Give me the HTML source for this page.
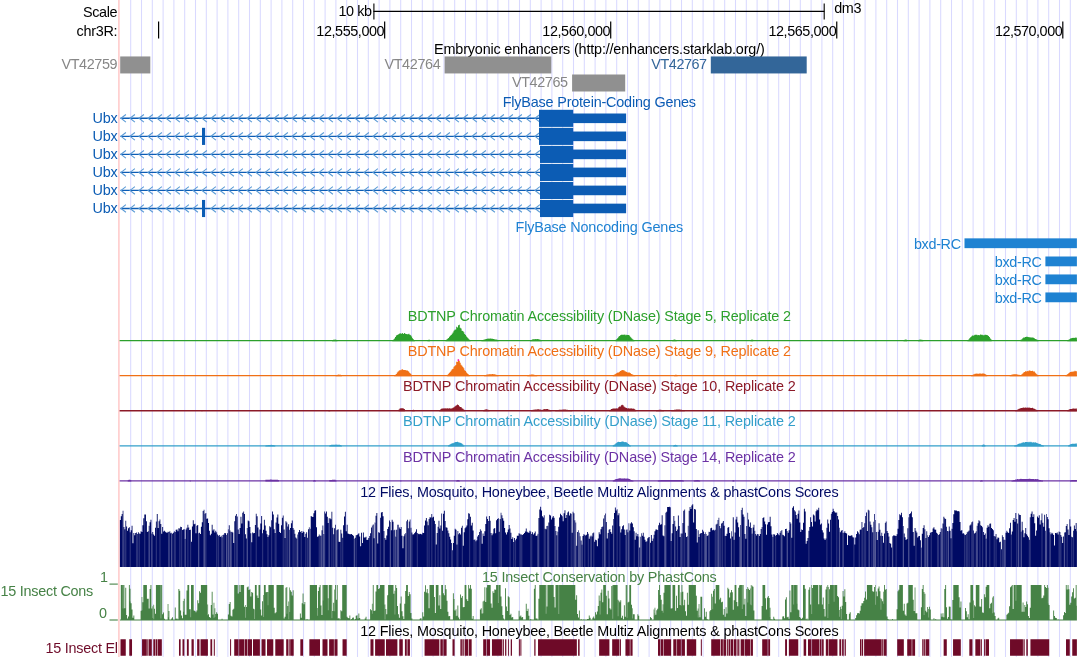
<!DOCTYPE html>
<html><head><meta charset="utf-8"><title>UCSC Genome Browser dm3 chr3R</title>
<style>html,body{margin:0;padding:0;background:#fff;overflow:hidden}svg{display:block;will-change:transform}text{font-family:"Liberation Sans", sans-serif;white-space:pre}</style></head><body>
<svg width="1078" height="657" viewBox="0 0 1078 657">
<rect width="1078" height="657" fill="#fff"/>
<g stroke="#d9d9ff" stroke-width="1.05">
<line x1="130.7" y1="0" x2="130.7" y2="657"/>
<line x1="141.5" y1="0" x2="141.5" y2="657"/>
<line x1="152.3" y1="0" x2="152.3" y2="657"/>
<line x1="163.1" y1="0" x2="163.1" y2="657"/>
<line x1="173.9" y1="0" x2="173.9" y2="657"/>
<line x1="184.7" y1="0" x2="184.7" y2="657"/>
<line x1="195.5" y1="0" x2="195.5" y2="657"/>
<line x1="206.3" y1="0" x2="206.3" y2="657"/>
<line x1="217.1" y1="0" x2="217.1" y2="657"/>
<line x1="227.9" y1="0" x2="227.9" y2="657"/>
<line x1="238.7" y1="0" x2="238.7" y2="657"/>
<line x1="249.5" y1="0" x2="249.5" y2="657"/>
<line x1="260.3" y1="0" x2="260.3" y2="657"/>
<line x1="271.1" y1="0" x2="271.1" y2="657"/>
<line x1="281.9" y1="0" x2="281.9" y2="657"/>
<line x1="292.7" y1="0" x2="292.7" y2="657"/>
<line x1="303.5" y1="0" x2="303.5" y2="657"/>
<line x1="314.3" y1="0" x2="314.3" y2="657"/>
<line x1="325.1" y1="0" x2="325.1" y2="657"/>
<line x1="335.9" y1="0" x2="335.9" y2="657"/>
<line x1="346.7" y1="0" x2="346.7" y2="657"/>
<line x1="357.5" y1="0" x2="357.5" y2="657"/>
<line x1="368.3" y1="0" x2="368.3" y2="657"/>
<line x1="379.1" y1="0" x2="379.1" y2="657"/>
<line x1="389.9" y1="0" x2="389.9" y2="657"/>
<line x1="400.7" y1="0" x2="400.7" y2="657"/>
<line x1="411.5" y1="0" x2="411.5" y2="657"/>
<line x1="422.3" y1="0" x2="422.3" y2="657"/>
<line x1="433.1" y1="0" x2="433.1" y2="657"/>
<line x1="443.9" y1="0" x2="443.9" y2="657"/>
<line x1="454.7" y1="0" x2="454.7" y2="657"/>
<line x1="465.5" y1="0" x2="465.5" y2="657"/>
<line x1="476.3" y1="0" x2="476.3" y2="657"/>
<line x1="487.1" y1="0" x2="487.1" y2="657"/>
<line x1="497.9" y1="0" x2="497.9" y2="657"/>
<line x1="508.7" y1="0" x2="508.7" y2="657"/>
<line x1="519.5" y1="0" x2="519.5" y2="657"/>
<line x1="530.3" y1="0" x2="530.3" y2="657"/>
<line x1="541.1" y1="0" x2="541.1" y2="657"/>
<line x1="551.9" y1="0" x2="551.9" y2="657"/>
<line x1="562.7" y1="0" x2="562.7" y2="657"/>
<line x1="573.5" y1="0" x2="573.5" y2="657"/>
<line x1="584.3" y1="0" x2="584.3" y2="657"/>
<line x1="595.1" y1="0" x2="595.1" y2="657"/>
<line x1="605.9" y1="0" x2="605.9" y2="657"/>
<line x1="616.7" y1="0" x2="616.7" y2="657"/>
<line x1="627.5" y1="0" x2="627.5" y2="657"/>
<line x1="638.3" y1="0" x2="638.3" y2="657"/>
<line x1="649.1" y1="0" x2="649.1" y2="657"/>
<line x1="659.9" y1="0" x2="659.9" y2="657"/>
<line x1="670.7" y1="0" x2="670.7" y2="657"/>
<line x1="681.5" y1="0" x2="681.5" y2="657"/>
<line x1="692.3" y1="0" x2="692.3" y2="657"/>
<line x1="703.1" y1="0" x2="703.1" y2="657"/>
<line x1="713.9" y1="0" x2="713.9" y2="657"/>
<line x1="724.7" y1="0" x2="724.7" y2="657"/>
<line x1="735.5" y1="0" x2="735.5" y2="657"/>
<line x1="746.3" y1="0" x2="746.3" y2="657"/>
<line x1="757.1" y1="0" x2="757.1" y2="657"/>
<line x1="767.9" y1="0" x2="767.9" y2="657"/>
<line x1="778.7" y1="0" x2="778.7" y2="657"/>
<line x1="789.5" y1="0" x2="789.5" y2="657"/>
<line x1="800.3" y1="0" x2="800.3" y2="657"/>
<line x1="811.1" y1="0" x2="811.1" y2="657"/>
<line x1="821.9" y1="0" x2="821.9" y2="657"/>
<line x1="832.7" y1="0" x2="832.7" y2="657"/>
<line x1="843.5" y1="0" x2="843.5" y2="657"/>
<line x1="854.3" y1="0" x2="854.3" y2="657"/>
<line x1="865.1" y1="0" x2="865.1" y2="657"/>
<line x1="875.9" y1="0" x2="875.9" y2="657"/>
<line x1="886.7" y1="0" x2="886.7" y2="657"/>
<line x1="897.5" y1="0" x2="897.5" y2="657"/>
<line x1="908.3" y1="0" x2="908.3" y2="657"/>
<line x1="919.1" y1="0" x2="919.1" y2="657"/>
<line x1="929.9" y1="0" x2="929.9" y2="657"/>
<line x1="940.7" y1="0" x2="940.7" y2="657"/>
<line x1="951.5" y1="0" x2="951.5" y2="657"/>
<line x1="962.3" y1="0" x2="962.3" y2="657"/>
<line x1="973.1" y1="0" x2="973.1" y2="657"/>
<line x1="983.9" y1="0" x2="983.9" y2="657"/>
<line x1="994.7" y1="0" x2="994.7" y2="657"/>
<line x1="1005.5" y1="0" x2="1005.5" y2="657"/>
<line x1="1016.3" y1="0" x2="1016.3" y2="657"/>
<line x1="1027.1" y1="0" x2="1027.1" y2="657"/>
<line x1="1037.9" y1="0" x2="1037.9" y2="657"/>
<line x1="1048.7" y1="0" x2="1048.7" y2="657"/>
<line x1="1059.5" y1="0" x2="1059.5" y2="657"/>
<line x1="1070.3" y1="0" x2="1070.3" y2="657"/>
</g>
<line x1="118.9" y1="0" x2="118.9" y2="657" stroke="#ffc8c8" stroke-width="1.5"/>
<text x="117.6" y="16.5" fill="#000" text-anchor="end" font-size="14.4" textLength="34.6">Scale</text>
<text x="372" y="16.2" fill="#000" text-anchor="end" font-size="14.4" textLength="33.5">10 kb</text>
<g stroke="#000" stroke-width="1.1">
<line x1="373.4" y1="11.4" x2="824.4" y2="11.4"/>
<line x1="373.9" y1="3.6" x2="373.9" y2="19.6"/>
<line x1="824.2" y1="3.6" x2="824.2" y2="19.6"/>
</g>
<text x="834.2" y="13.2" fill="#000" text-anchor="start" font-size="14.4" textLength="27.3">dm3</text>
<text x="117.6" y="36.3" fill="#000" text-anchor="end" font-size="14.4" textLength="41.1">chr3R:</text>
<g stroke="#000" stroke-width="1.2">
<line x1="158.6" y1="21.6" x2="158.6" y2="38.6"/>
<line x1="384.65" y1="21.6" x2="384.65" y2="38.6"/>
<line x1="610.7" y1="21.6" x2="610.7" y2="38.6"/>
<line x1="836.75" y1="21.6" x2="836.75" y2="38.6"/>
<line x1="1062.8" y1="21.6" x2="1062.8" y2="38.6"/>
</g>
<text x="384.55" y="36.3" fill="#000" text-anchor="end" font-size="14.4" textLength="68.2">12,555,000</text>
<text x="610.6" y="36.3" fill="#000" text-anchor="end" font-size="14.4" textLength="68.3">12,560,000</text>
<text x="836.65" y="36.3" fill="#000" text-anchor="end" font-size="14.4" textLength="68.2">12,565,000</text>
<text x="1062.7" y="36.3" fill="#000" text-anchor="end" font-size="14.4" textLength="67.8">12,570,000</text>
<text x="599.4" y="53.9" fill="#000" text-anchor="middle" font-size="14.4" textLength="330.7">Embryonic enhancers (http://enhancers.starklab.org/)</text>
<rect x="120.2" y="56.45" width="30.1" height="17" fill="#909090"/>
<text x="117.6" y="69.15" fill="#878787" text-anchor="end" font-size="14.4" textLength="56.2">VT42759</text>
<rect x="444.6" y="56.45" width="106.7" height="17" fill="#909090"/>
<text x="440.8" y="69.15" fill="#878787" text-anchor="end" font-size="14.4" textLength="56.4">VT42764</text>
<rect x="572.1" y="74.5" width="53.1" height="17" fill="#909090"/>
<text x="568.1" y="87.2" fill="#878787" text-anchor="end" font-size="14.4" textLength="56.2">VT42765</text>
<rect x="710.8" y="56.45" width="95.9" height="17" fill="#336699"/>
<text x="707.1" y="69.15" fill="#336699" text-anchor="end" font-size="14.4" textLength="55.8">VT42767</text>
<text x="599.4" y="106.5" fill="#0c5cb4" text-anchor="middle" font-size="14.4" textLength="193.3">FlyBase Protein-Coding Genes</text>
<text x="117.7" y="123.1" fill="#0c5cb4" text-anchor="end" font-size="14.4" textLength="25.3">Ubx</text>
<line x1="120.4" y1="118.3" x2="539" y2="118.3" stroke="#0c5cb4" stroke-width="1.38"/>
<path d="M125.9 114.5L121 118.3L125.9 122.1M134.9 114.5L130 118.3L134.9 122.1M143.9 114.5L139 118.3L143.9 122.1M152.9 114.5L148 118.3L152.9 122.1M161.9 114.5L157 118.3L161.9 122.1M170.9 114.5L166 118.3L170.9 122.1M179.9 114.5L175 118.3L179.9 122.1M188.9 114.5L184 118.3L188.9 122.1M197.9 114.5L193 118.3L197.9 122.1M206.9 114.5L202 118.3L206.9 122.1M215.9 114.5L211 118.3L215.9 122.1M224.9 114.5L220 118.3L224.9 122.1M233.9 114.5L229 118.3L233.9 122.1M242.9 114.5L238 118.3L242.9 122.1M251.9 114.5L247 118.3L251.9 122.1M260.9 114.5L256 118.3L260.9 122.1M269.9 114.5L265 118.3L269.9 122.1M278.9 114.5L274 118.3L278.9 122.1M287.9 114.5L283 118.3L287.9 122.1M296.9 114.5L292 118.3L296.9 122.1M305.9 114.5L301 118.3L305.9 122.1M314.9 114.5L310 118.3L314.9 122.1M323.9 114.5L319 118.3L323.9 122.1M332.9 114.5L328 118.3L332.9 122.1M341.9 114.5L337 118.3L341.9 122.1M350.9 114.5L346 118.3L350.9 122.1M359.9 114.5L355 118.3L359.9 122.1M368.9 114.5L364 118.3L368.9 122.1M377.9 114.5L373 118.3L377.9 122.1M386.9 114.5L382 118.3L386.9 122.1M395.9 114.5L391 118.3L395.9 122.1M404.9 114.5L400 118.3L404.9 122.1M413.9 114.5L409 118.3L413.9 122.1M422.9 114.5L418 118.3L422.9 122.1M431.9 114.5L427 118.3L431.9 122.1M440.9 114.5L436 118.3L440.9 122.1M449.9 114.5L445 118.3L449.9 122.1M458.9 114.5L454 118.3L458.9 122.1M467.9 114.5L463 118.3L467.9 122.1M476.9 114.5L472 118.3L476.9 122.1M485.9 114.5L481 118.3L485.9 122.1M494.9 114.5L490 118.3L494.9 122.1M503.9 114.5L499 118.3L503.9 122.1M512.9 114.5L508 118.3L512.9 122.1M521.9 114.5L517 118.3L521.9 122.1M530.9 114.5L526 118.3L530.9 122.1M539.9 114.5L535 118.3L539.9 122.1" fill="none" stroke="#5b9bd6" stroke-width="1.12"/>
<rect x="539" y="109.8" width="34.2" height="17.1" fill="#0c5cb4"/>
<rect x="573" y="113.5" width="53.1" height="9.6" fill="#0c5cb4"/>
<text x="117.7" y="141.13" fill="#0c5cb4" text-anchor="end" font-size="14.4" textLength="25.3">Ubx</text>
<line x1="120.4" y1="136.33" x2="539" y2="136.33" stroke="#0c5cb4" stroke-width="1.38"/>
<path d="M125.9 132.53L121 136.33L125.9 140.13M134.9 132.53L130 136.33L134.9 140.13M143.9 132.53L139 136.33L143.9 140.13M152.9 132.53L148 136.33L152.9 140.13M161.9 132.53L157 136.33L161.9 140.13M170.9 132.53L166 136.33L170.9 140.13M179.9 132.53L175 136.33L179.9 140.13M188.9 132.53L184 136.33L188.9 140.13M197.9 132.53L193 136.33L197.9 140.13M215.9 132.53L211 136.33L215.9 140.13M224.9 132.53L220 136.33L224.9 140.13M233.9 132.53L229 136.33L233.9 140.13M242.9 132.53L238 136.33L242.9 140.13M251.9 132.53L247 136.33L251.9 140.13M260.9 132.53L256 136.33L260.9 140.13M269.9 132.53L265 136.33L269.9 140.13M278.9 132.53L274 136.33L278.9 140.13M287.9 132.53L283 136.33L287.9 140.13M296.9 132.53L292 136.33L296.9 140.13M305.9 132.53L301 136.33L305.9 140.13M314.9 132.53L310 136.33L314.9 140.13M323.9 132.53L319 136.33L323.9 140.13M332.9 132.53L328 136.33L332.9 140.13M341.9 132.53L337 136.33L341.9 140.13M350.9 132.53L346 136.33L350.9 140.13M359.9 132.53L355 136.33L359.9 140.13M368.9 132.53L364 136.33L368.9 140.13M377.9 132.53L373 136.33L377.9 140.13M386.9 132.53L382 136.33L386.9 140.13M395.9 132.53L391 136.33L395.9 140.13M404.9 132.53L400 136.33L404.9 140.13M413.9 132.53L409 136.33L413.9 140.13M422.9 132.53L418 136.33L422.9 140.13M431.9 132.53L427 136.33L431.9 140.13M440.9 132.53L436 136.33L440.9 140.13M449.9 132.53L445 136.33L449.9 140.13M458.9 132.53L454 136.33L458.9 140.13M467.9 132.53L463 136.33L467.9 140.13M476.9 132.53L472 136.33L476.9 140.13M485.9 132.53L481 136.33L485.9 140.13M494.9 132.53L490 136.33L494.9 140.13M503.9 132.53L499 136.33L503.9 140.13M512.9 132.53L508 136.33L512.9 140.13M521.9 132.53L517 136.33L521.9 140.13M530.9 132.53L526 136.33L530.9 140.13M539.9 132.53L535 136.33L539.9 140.13" fill="none" stroke="#5b9bd6" stroke-width="1.12"/>
<rect x="539" y="127.83" width="34.2" height="17.1" fill="#0c5cb4"/>
<rect x="573" y="131.53" width="53.1" height="9.6" fill="#0c5cb4"/>
<rect x="202" y="127.83" width="3.1" height="17.1" fill="#0c5cb4"/>
<text x="117.7" y="159.16" fill="#0c5cb4" text-anchor="end" font-size="14.4" textLength="25.3">Ubx</text>
<line x1="120.4" y1="154.36" x2="540" y2="154.36" stroke="#0c5cb4" stroke-width="1.38"/>
<path d="M125.9 150.56L121 154.36L125.9 158.16M134.9 150.56L130 154.36L134.9 158.16M143.9 150.56L139 154.36L143.9 158.16M152.9 150.56L148 154.36L152.9 158.16M161.9 150.56L157 154.36L161.9 158.16M170.9 150.56L166 154.36L170.9 158.16M179.9 150.56L175 154.36L179.9 158.16M188.9 150.56L184 154.36L188.9 158.16M197.9 150.56L193 154.36L197.9 158.16M206.9 150.56L202 154.36L206.9 158.16M215.9 150.56L211 154.36L215.9 158.16M224.9 150.56L220 154.36L224.9 158.16M233.9 150.56L229 154.36L233.9 158.16M242.9 150.56L238 154.36L242.9 158.16M251.9 150.56L247 154.36L251.9 158.16M260.9 150.56L256 154.36L260.9 158.16M269.9 150.56L265 154.36L269.9 158.16M278.9 150.56L274 154.36L278.9 158.16M287.9 150.56L283 154.36L287.9 158.16M296.9 150.56L292 154.36L296.9 158.16M305.9 150.56L301 154.36L305.9 158.16M314.9 150.56L310 154.36L314.9 158.16M323.9 150.56L319 154.36L323.9 158.16M332.9 150.56L328 154.36L332.9 158.16M341.9 150.56L337 154.36L341.9 158.16M350.9 150.56L346 154.36L350.9 158.16M359.9 150.56L355 154.36L359.9 158.16M368.9 150.56L364 154.36L368.9 158.16M377.9 150.56L373 154.36L377.9 158.16M386.9 150.56L382 154.36L386.9 158.16M395.9 150.56L391 154.36L395.9 158.16M404.9 150.56L400 154.36L404.9 158.16M413.9 150.56L409 154.36L413.9 158.16M422.9 150.56L418 154.36L422.9 158.16M431.9 150.56L427 154.36L431.9 158.16M440.9 150.56L436 154.36L440.9 158.16M449.9 150.56L445 154.36L449.9 158.16M458.9 150.56L454 154.36L458.9 158.16M467.9 150.56L463 154.36L467.9 158.16M476.9 150.56L472 154.36L476.9 158.16M485.9 150.56L481 154.36L485.9 158.16M494.9 150.56L490 154.36L494.9 158.16M503.9 150.56L499 154.36L503.9 158.16M512.9 150.56L508 154.36L512.9 158.16M521.9 150.56L517 154.36L521.9 158.16M530.9 150.56L526 154.36L530.9 158.16M539.9 150.56L535 154.36L539.9 158.16" fill="none" stroke="#5b9bd6" stroke-width="1.12"/>
<rect x="540" y="145.86" width="33.2" height="17.1" fill="#0c5cb4"/>
<rect x="573" y="149.56" width="53.1" height="9.6" fill="#0c5cb4"/>
<text x="117.7" y="177.19" fill="#0c5cb4" text-anchor="end" font-size="14.4" textLength="25.3">Ubx</text>
<line x1="120.4" y1="172.39" x2="540" y2="172.39" stroke="#0c5cb4" stroke-width="1.38"/>
<path d="M125.9 168.59L121 172.39L125.9 176.19M134.9 168.59L130 172.39L134.9 176.19M143.9 168.59L139 172.39L143.9 176.19M152.9 168.59L148 172.39L152.9 176.19M161.9 168.59L157 172.39L161.9 176.19M170.9 168.59L166 172.39L170.9 176.19M179.9 168.59L175 172.39L179.9 176.19M188.9 168.59L184 172.39L188.9 176.19M197.9 168.59L193 172.39L197.9 176.19M206.9 168.59L202 172.39L206.9 176.19M215.9 168.59L211 172.39L215.9 176.19M224.9 168.59L220 172.39L224.9 176.19M233.9 168.59L229 172.39L233.9 176.19M242.9 168.59L238 172.39L242.9 176.19M251.9 168.59L247 172.39L251.9 176.19M260.9 168.59L256 172.39L260.9 176.19M269.9 168.59L265 172.39L269.9 176.19M278.9 168.59L274 172.39L278.9 176.19M287.9 168.59L283 172.39L287.9 176.19M296.9 168.59L292 172.39L296.9 176.19M305.9 168.59L301 172.39L305.9 176.19M314.9 168.59L310 172.39L314.9 176.19M323.9 168.59L319 172.39L323.9 176.19M332.9 168.59L328 172.39L332.9 176.19M341.9 168.59L337 172.39L341.9 176.19M350.9 168.59L346 172.39L350.9 176.19M359.9 168.59L355 172.39L359.9 176.19M368.9 168.59L364 172.39L368.9 176.19M377.9 168.59L373 172.39L377.9 176.19M386.9 168.59L382 172.39L386.9 176.19M395.9 168.59L391 172.39L395.9 176.19M404.9 168.59L400 172.39L404.9 176.19M413.9 168.59L409 172.39L413.9 176.19M422.9 168.59L418 172.39L422.9 176.19M431.9 168.59L427 172.39L431.9 176.19M440.9 168.59L436 172.39L440.9 176.19M449.9 168.59L445 172.39L449.9 176.19M458.9 168.59L454 172.39L458.9 176.19M467.9 168.59L463 172.39L467.9 176.19M476.9 168.59L472 172.39L476.9 176.19M485.9 168.59L481 172.39L485.9 176.19M494.9 168.59L490 172.39L494.9 176.19M503.9 168.59L499 172.39L503.9 176.19M512.9 168.59L508 172.39L512.9 176.19M521.9 168.59L517 172.39L521.9 176.19M530.9 168.59L526 172.39L530.9 176.19M539.9 168.59L535 172.39L539.9 176.19" fill="none" stroke="#5b9bd6" stroke-width="1.12"/>
<rect x="540" y="163.89" width="33.2" height="17.1" fill="#0c5cb4"/>
<rect x="573" y="167.59" width="53.1" height="9.6" fill="#0c5cb4"/>
<text x="117.7" y="195.22" fill="#0c5cb4" text-anchor="end" font-size="14.4" textLength="25.3">Ubx</text>
<line x1="120.4" y1="190.42" x2="540" y2="190.42" stroke="#0c5cb4" stroke-width="1.38"/>
<path d="M125.9 186.62L121 190.42L125.9 194.22M134.9 186.62L130 190.42L134.9 194.22M143.9 186.62L139 190.42L143.9 194.22M152.9 186.62L148 190.42L152.9 194.22M161.9 186.62L157 190.42L161.9 194.22M170.9 186.62L166 190.42L170.9 194.22M179.9 186.62L175 190.42L179.9 194.22M188.9 186.62L184 190.42L188.9 194.22M197.9 186.62L193 190.42L197.9 194.22M206.9 186.62L202 190.42L206.9 194.22M215.9 186.62L211 190.42L215.9 194.22M224.9 186.62L220 190.42L224.9 194.22M233.9 186.62L229 190.42L233.9 194.22M242.9 186.62L238 190.42L242.9 194.22M251.9 186.62L247 190.42L251.9 194.22M260.9 186.62L256 190.42L260.9 194.22M269.9 186.62L265 190.42L269.9 194.22M278.9 186.62L274 190.42L278.9 194.22M287.9 186.62L283 190.42L287.9 194.22M296.9 186.62L292 190.42L296.9 194.22M305.9 186.62L301 190.42L305.9 194.22M314.9 186.62L310 190.42L314.9 194.22M323.9 186.62L319 190.42L323.9 194.22M332.9 186.62L328 190.42L332.9 194.22M341.9 186.62L337 190.42L341.9 194.22M350.9 186.62L346 190.42L350.9 194.22M359.9 186.62L355 190.42L359.9 194.22M368.9 186.62L364 190.42L368.9 194.22M377.9 186.62L373 190.42L377.9 194.22M386.9 186.62L382 190.42L386.9 194.22M395.9 186.62L391 190.42L395.9 194.22M404.9 186.62L400 190.42L404.9 194.22M413.9 186.62L409 190.42L413.9 194.22M422.9 186.62L418 190.42L422.9 194.22M431.9 186.62L427 190.42L431.9 194.22M440.9 186.62L436 190.42L440.9 194.22M449.9 186.62L445 190.42L449.9 194.22M458.9 186.62L454 190.42L458.9 194.22M467.9 186.62L463 190.42L467.9 194.22M476.9 186.62L472 190.42L476.9 194.22M485.9 186.62L481 190.42L485.9 194.22M494.9 186.62L490 190.42L494.9 194.22M503.9 186.62L499 190.42L503.9 194.22M512.9 186.62L508 190.42L512.9 194.22M521.9 186.62L517 190.42L521.9 194.22M530.9 186.62L526 190.42L530.9 194.22M539.9 186.62L535 190.42L539.9 194.22" fill="none" stroke="#5b9bd6" stroke-width="1.12"/>
<rect x="540" y="181.92" width="33.2" height="17.1" fill="#0c5cb4"/>
<rect x="573" y="185.62" width="53.1" height="9.6" fill="#0c5cb4"/>
<text x="117.7" y="213.25" fill="#0c5cb4" text-anchor="end" font-size="14.4" textLength="25.3">Ubx</text>
<line x1="120.4" y1="208.45" x2="540" y2="208.45" stroke="#0c5cb4" stroke-width="1.38"/>
<path d="M125.9 204.65L121 208.45L125.9 212.25M134.9 204.65L130 208.45L134.9 212.25M143.9 204.65L139 208.45L143.9 212.25M152.9 204.65L148 208.45L152.9 212.25M161.9 204.65L157 208.45L161.9 212.25M170.9 204.65L166 208.45L170.9 212.25M179.9 204.65L175 208.45L179.9 212.25M188.9 204.65L184 208.45L188.9 212.25M197.9 204.65L193 208.45L197.9 212.25M215.9 204.65L211 208.45L215.9 212.25M224.9 204.65L220 208.45L224.9 212.25M233.9 204.65L229 208.45L233.9 212.25M242.9 204.65L238 208.45L242.9 212.25M251.9 204.65L247 208.45L251.9 212.25M260.9 204.65L256 208.45L260.9 212.25M269.9 204.65L265 208.45L269.9 212.25M278.9 204.65L274 208.45L278.9 212.25M287.9 204.65L283 208.45L287.9 212.25M296.9 204.65L292 208.45L296.9 212.25M305.9 204.65L301 208.45L305.9 212.25M314.9 204.65L310 208.45L314.9 212.25M323.9 204.65L319 208.45L323.9 212.25M332.9 204.65L328 208.45L332.9 212.25M341.9 204.65L337 208.45L341.9 212.25M350.9 204.65L346 208.45L350.9 212.25M359.9 204.65L355 208.45L359.9 212.25M368.9 204.65L364 208.45L368.9 212.25M377.9 204.65L373 208.45L377.9 212.25M386.9 204.65L382 208.45L386.9 212.25M395.9 204.65L391 208.45L395.9 212.25M404.9 204.65L400 208.45L404.9 212.25M413.9 204.65L409 208.45L413.9 212.25M422.9 204.65L418 208.45L422.9 212.25M431.9 204.65L427 208.45L431.9 212.25M440.9 204.65L436 208.45L440.9 212.25M449.9 204.65L445 208.45L449.9 212.25M458.9 204.65L454 208.45L458.9 212.25M467.9 204.65L463 208.45L467.9 212.25M476.9 204.65L472 208.45L476.9 212.25M485.9 204.65L481 208.45L485.9 212.25M494.9 204.65L490 208.45L494.9 212.25M503.9 204.65L499 208.45L503.9 212.25M512.9 204.65L508 208.45L512.9 212.25M521.9 204.65L517 208.45L521.9 212.25M530.9 204.65L526 208.45L530.9 212.25M539.9 204.65L535 208.45L539.9 212.25" fill="none" stroke="#5b9bd6" stroke-width="1.12"/>
<rect x="540" y="199.95" width="33.2" height="17.1" fill="#0c5cb4"/>
<rect x="573" y="203.65" width="53.1" height="9.6" fill="#0c5cb4"/>
<rect x="202" y="199.95" width="3.1" height="17.1" fill="#0c5cb4"/>
<text x="599.4" y="232" fill="#1e82d2" text-anchor="middle" font-size="14.4" textLength="167.6">FlyBase Noncoding Genes</text>
<rect x="964.5" y="238.35" width="112.4" height="9.8" fill="#1e82d2"/>
<text x="961.1" y="248.85" fill="#1e82d2" text-anchor="end" font-size="14.4" textLength="47.2">bxd-RC</text>
<rect x="1045.4" y="256.5" width="31.5" height="9.8" fill="#1e82d2"/>
<text x="1042" y="267" fill="#1e82d2" text-anchor="end" font-size="14.4" textLength="47.2">bxd-RC</text>
<rect x="1045.4" y="274.45" width="31.5" height="9.8" fill="#1e82d2"/>
<text x="1042" y="284.95" fill="#1e82d2" text-anchor="end" font-size="14.4" textLength="47.2">bxd-RC</text>
<rect x="1045.4" y="292.45" width="31.5" height="9.8" fill="#1e82d2"/>
<text x="1042" y="302.95" fill="#1e82d2" text-anchor="end" font-size="14.4" textLength="47.2">bxd-RC</text>
<text x="599.4" y="321.15" fill="#2ca02c" text-anchor="middle" font-size="14.4" textLength="383.3">BDTNP Chromatin Accessibility (DNase) Stage 5, Replicate 2</text>
<line x1="119.6" y1="340.55" x2="1076.9" y2="340.55" stroke="#2ca02c" stroke-width="1.3"/>
<path d="M332 341.15V340.04H332.9V339.7H333.8V339.64H334.7V339.61H335.6V339.85H336.5V340.2H337.4V341.15ZM392.3 341.15V340.24H393.2V339.51H394.1V338.41H395V336.96H395.9V335.38H396.8V335.08H397.7V334.51H398.6V333.91H399.5V333.35H400.4V333.62H401.3V333.71H402.2V332.92H403.1V334.01H404V333.04H404.9V333.79H405.8V334.07H406.7V334.24H407.6V334.19H408.5V333.81H409.4V334.79H410.3V335.27H411.2V336.54H412.1V338.13H413V339.37H413.9V340.28H414.8V341.15ZM427.4 341.15V340.14H428.3V339.82H429.2V339.86H430.1V341.15ZM445.4 341.15V340.14H446.3V339.44H447.2V338.7H448.1V337.91H449V336.7H449.9V335.73H450.8V335.1H451.7V333.68H452.6V332.6H453.5V330.87H454.4V329.85H455.3V329.44H456.2V326.69H457.1V327.38H458V325.34H458.9V324.87H459.8V327.86H460.7V328.55H461.6V330.81H462.5V331.09H463.4V332.35H464.3V333.92H465.2V334.89H466.1V336.54H467V337.41H467.9V338.49H468.8V339.42H469.7V340.19H470.6V341.15ZM481.4 341.15V340.21H482.3V339.98H483.2V339.7H484.1V339.55H485V339.19H485.9V338.98H486.8V338.7H487.7V338.61H488.6V338.7H489.5V338.62H490.4V338.53H491.3V338.81H492.2V338.77H493.1V339H494V339.19H494.9V339.4H495.8V339.5H496.7V339.86H497.6V340.09H498.5V341.15ZM530 341.15V340.18H530.9V339.9H531.8V339.58H532.7V339.35H533.6V339.16H534.5V339.18H535.4V339.1H536.3V339.13H537.2V339.1H538.1V339.26H539V339.62H539.9V339.85H540.8V340.1H541.7V341.15ZM615.5 341.15V339.86H616.4V339.03H617.3V338.1H618.2V336.84H619.1V336.02H620V335.35H620.9V334.81H621.8V334.83H622.7V334.83H623.6V334.63H624.5V334.57H625.4V335.28H626.3V334.63H627.2V334.97H628.1V335.07H629V335.61H629.9V336.72H630.8V337.69H631.7V338.81H632.6V339.59H633.5V340.29H634.4V341.15ZM672.2 341.15V340.21H673.1V339.74H674V339.5H674.9V339.71H675.8V340.17H676.7V341.15ZM750.5 341.15V339.97H751.4V339.6H752.3V339.83H753.2V341.15ZM903.5 341.15V340.09H904.4V339.7H905.3V339.61H906.2V339.87H907.1V341.15ZM917.9 341.15V340.01H918.8V339.75H919.7V339.58H920.6V339.67H921.5V339.85H922.4V340.14H923.3V341.15ZM967.4 341.15V340.22H968.3V339.49H969.2V338.13H970.1V337.13H971V336.43H971.9V335.51H972.8V335.8H973.7V335.24H974.6V334.71H975.5V334.71H976.4V334.79H977.3V335.14H978.2V334.99H979.1V335.17H980V334.57H980.9V334.83H981.8V334.64H982.7V335.14H983.6V335.32H984.5V334.86H985.4V334.82H986.3V335.06H987.2V335.29H988.1V335.97H989V337.11H989.9V338.55H990.8V339.54H991.7V341.15ZM1020.5 341.15V339.82H1021.4V339.14H1022.3V338.27H1023.2V337.52H1024.1V337.43H1025V337.03H1025.9V336.84H1026.8V336.75H1027.7V337.09H1028.6V337.22H1029.5V337.33H1030.4V337.5H1031.3V337.57H1032.2V337.55H1033.1V337.77H1034V338.26H1034.9V338.88H1035.8V339.34H1036.7V339.79H1037.6V340.22H1038.5V341.15ZM1067.3 341.15V340.23H1068.2V339.73H1069.1V339.18H1070V338.42H1070.9V338.22H1071.8V337.91H1072.7V337.74H1073.6V337.92H1074.5V337.86H1075.4V337.58H1076.3V337.7H1076.9V341.15Z" fill="#2ca02c"/>
<text x="599.4" y="356.25" fill="#f07016" text-anchor="middle" font-size="14.4" textLength="383.3">BDTNP Chromatin Accessibility (DNase) Stage 9, Replicate 2</text>
<line x1="119.6" y1="375.65" x2="1076.9" y2="375.65" stroke="#f07016" stroke-width="1.3"/>
<path d="M335.6 376.25V375.34H336.5V375.05H337.4V374.72H338.3V374.62H339.2V374.76H340.1V374.83H341V375.1H341.9V376.25ZM394.1 376.25V375.4H395V374.8H395.9V373.95H396.8V372.46H397.7V371.54H398.6V370.79H399.5V369.93H400.4V370.2H401.3V369.51H402.2V369.37H403.1V369.94H404V369.97H404.9V370.11H405.8V370.41H406.7V370.28H407.6V371.09H408.5V371.81H409.4V373H410.3V373.79H411.2V374.86H412.1V376.25ZM447.2 376.25V374.65H448.1V373.86H449V372.64H449.9V371.76H450.8V370.57H451.7V369.34H452.6V368.71H453.5V366.84H454.4V365.93H455.3V364.94H456.2V361.78H457.1V361.79H458V359.66H458.9V360.63H459.8V362.64H460.7V364.63H461.6V365.73H462.5V367.11H463.4V368.22H464.3V370.28H465.2V371.09H466.1V372.46H467V373.48H467.9V374.31H468.8V375.19H469.7V376.25ZM484.1 376.25V375.19H485V375.01H485.9V374.77H486.8V374.6H487.7V374.43H488.6V374.26H489.5V374.23H490.4V374.17H491.3V374.19H492.2V374.12H493.1V374.27H494V374.37H494.9V374.54H495.8V374.85H496.7V375.02H497.6V375.21H498.5V376.25ZM527.3 376.25V375.25H528.2V375.06H529.1V374.86H530V374.74H530.9V374.55H531.8V374.52H532.7V374.55H533.6V374.8H534.5V374.9H535.4V375.13H536.3V375.39H537.2V376.25ZM612.8 376.25V375.13H613.7V374.63H614.6V374.29H615.5V373.8H616.4V373.1H617.3V372.6H618.2V372.42H619.1V371.69H620V371.04H620.9V370.59H621.8V370.12H622.7V370.18H623.6V370.29H624.5V371.36H625.4V371.4H626.3V371.93H627.2V372.62H628.1V372.59H629V372.54H629.9V373.07H630.8V373.99H631.7V374.23H632.6V374.63H633.5V374.94H634.4V375.3H635.3V376.25ZM674 376.25V375.4H674.9V374.77H675.8V374.73H676.7V375.13H677.6V376.25ZM971 376.25V375.36H971.9V374.96H972.8V374.59H973.7V374.21H974.6V373.69H975.5V373.68H976.4V373.56H977.3V373.71H978.2V373.68H979.1V373.42H980V373.51H980.9V373.67H981.8V373.4H982.7V373.58H983.6V373.6H984.5V374.08H985.4V374.49H986.3V375.25H987.2V376.25ZM1009.7 376.25V375.21H1010.6V374.91H1011.5V374.58H1012.4V374.49H1013.3V374.37H1014.2V374.18H1015.1V374.24H1016V374.34H1016.9V374.45H1017.8V374.66H1018.7V374.87H1019.6V375.12H1020.5V375.14H1021.4V374.28H1022.3V373.47H1023.2V372.44H1024.1V371.88H1025V371.33H1025.9V371.43H1026.8V371.07H1027.7V371.13H1028.6V370.44H1029.5V370.59H1030.4V370.98H1031.3V370.88H1032.2V370.71H1033.1V371.52H1034V371.53H1034.9V372.67H1035.8V373.69H1036.7V374.61H1037.6V375.38H1038.5V376.25ZM1065.5 376.25V375.25H1066.4V374.74H1067.3V373.91H1068.2V373.13H1069.1V372.41H1070V371.97H1070.9V371.67H1071.8V371.76H1072.7V371.56H1073.6V371.48H1074.5V370.87H1075.4V371.22H1076.3V371.31H1076.9V376.25Z" fill="#f07016"/>
<text x="599.4" y="391.35" fill="#8c1a28" text-anchor="middle" font-size="14.4" textLength="392.6">BDTNP Chromatin Accessibility (DNase) Stage 10, Replicate 2</text>
<line x1="119.6" y1="410.75" x2="1076.9" y2="410.75" stroke="#8c1a28" stroke-width="1.3"/>
<path d="M201.5 411.35V410.13H202.4V411.35ZM328.4 411.35V410.38H329.3V410.06H330.2V411.35ZM398.6 411.35V409.48H399.5V408.45H400.4V408.26H401.3V408.34H402.2V408.26H403.1V408.46H404V408.93H404.9V411.35ZM412.1 411.35V410.24H413V409.76H413.9V410.21H414.8V411.35ZM439.1 411.35V410.29H440V409.43H440.9V408.82H441.8V408.48H442.7V408.41H443.6V408.36H444.5V408.46H445.4V408.3H446.3V408.48H447.2V408.35H448.1V408.4H449V408.25H449.9V408.4H450.8V408.4H451.7V408.28H452.6V407.82H453.5V407.14H454.4V406.61H455.3V405.84H456.2V405.29H457.1V404.6H458V404.91H458.9V406.19H459.8V407.02H460.7V406.93H461.6V408.33H462.5V408.67H463.4V409.43H464.3V410.26H465.2V411.35ZM483.2 411.35V410.4H484.1V409.86H485V409.41H485.9V409.2H486.8V409.46H487.7V409.72H488.6V410.24H489.5V411.35ZM530.9 411.35V410.41H531.8V410.17H532.7V409.87H533.6V409.67H534.5V409.47H535.4V409.44H536.3V409.41H537.2V409.37H538.1V409.35H539V409.51H539.9V409.51H540.8V409.77H541.7V409.9H542.6V409.54H543.5V409.23H544.4V409.08H545.3V409.13H546.2V408.92H547.1V409.08H548V409.39H548.9V409.71H549.8V410.07H550.7V410.48H551.6V411.35ZM555.2 411.35V410.4H556.1V410.25H557V410.06H557.9V410H558.8V409.8H559.7V409.66H560.6V409.66H561.5V409.63H562.4V409.58H563.3V409.53H564.2V409.54H565.1V409.61H566V409.68H566.9V409.86H567.8V409.95H568.7V410.06H569.6V410.14H570.5V410.32H571.4V410.45H572.3V411.35ZM609.2 411.35V410.4H610.1V409.76H611V409.07H611.9V408.72H612.8V408.52H613.7V408.5H614.6V408.47H615.5V408.58H616.4V408.23H617.3V408.44H618.2V407.36H619.1V406.6H620V406.51H620.9V405.37H621.8V404.63H622.7V405.26H623.6V406.41H624.5V407.19H625.4V407.85H626.3V408.12H627.2V408.47H628.1V408.34H629V408.55H629.9V408.42H630.8V408.29H631.7V408.64H632.6V408.41H633.5V408.77H634.4V409.24H635.3V410H636.2V411.35ZM656 411.35V410.38H656.9V410.19H657.8V410.01H658.7V409.81H659.6V409.77H660.5V409.85H661.4V410H662.3V410.18H663.2V410.42H664.1V411.35ZM671.3 411.35V410.39H672.2V410.16H673.1V410.05H674V409.75H674.9V409.63H675.8V409.48H676.7V409.54H677.6V409.5H678.5V409.52H679.4V409.47H680.3V409.67H681.2V409.86H682.1V410.03H683V410.24H683.9V410.45H684.8V411.35ZM752.3 411.35V409.94H753.2V409.94H754.1V411.35ZM1015.1 411.35V410.45H1016V410.13H1016.9V409.8H1017.8V409.36H1018.7V408.77H1019.6V408.39H1020.5V408.09H1021.4V407.95H1022.3V407.72H1023.2V407.62H1024.1V407.73H1025V407.56H1025.9V407.87H1026.8V407.47H1027.7V407.63H1028.6V407.51H1029.5V407.63H1030.4V407.9H1031.3V408.11H1032.2V407.77H1033.1V408.4H1034V408.7H1034.9V409.28H1035.8V409.83H1036.7V410.27H1037.6V411.35ZM1067.3 411.35V410.41H1068.2V409.83H1069.1V409.29H1070V408.98H1070.9V408.89H1071.8V408.81H1072.7V408.5H1073.6V408.61H1074.5V408.69H1075.4V408.43H1076.3V408.42H1076.9V411.35Z" fill="#8c1a28"/>
<text x="599.4" y="426.45" fill="#339fca" text-anchor="middle" font-size="14.4" textLength="392.6">BDTNP Chromatin Accessibility (DNase) Stage 11, Replicate 2</text>
<line x1="119.6" y1="445.85" x2="1076.9" y2="445.85" stroke="#339fca" stroke-width="1.3"/>
<path d="M265.4 446.45V445.51H266.3V445.34H267.2V445.15H268.1V445.05H269V444.95H269.9V444.91H270.8V444.87H271.7V444.9H272.6V445.04H273.5V445.25H274.4V445.43H275.3V446.45ZM329.3 446.45V445.53H330.2V444.94H331.1V444.81H332V444.64H332.9V444.77H333.8V444.68H334.7V444.64H335.6V444.6H336.5V444.74H337.4V444.75H338.3V444.78H339.2V444.79H340.1V444.92H341V445.42H341.9V446.45ZM448.1 446.45V445.37H449V444.84H449.9V444.25H450.8V443.81H451.7V443.26H452.6V443.14H453.5V442.66H454.4V442.24H455.3V442.11H456.2V441.93H457.1V441.8H458V442.33H458.9V442.57H459.8V442.7H460.7V442.89H461.6V443.63H462.5V444.54H463.4V445.41H464.3V446.45ZM612.8 446.45V445.35H613.7V444.76H614.6V444.2H615.5V443.21H616.4V442.83H617.3V441.95H618.2V441.87H619.1V441.96H620V441.92H620.9V441.73H621.8V441.42H622.7V441.45H623.6V442.02H624.5V442.23H625.4V442.07H626.3V442.47H627.2V443.23H628.1V444.03H629V444.69H629.9V445.38H630.8V446.45ZM673.1 446.45V445.58H674V445.05H674.9V444.85H675.8V444.94H676.7V445.41H677.6V446.45ZM981.8 446.45V445.15H982.7V444.5H983.6V444.43H984.5V445.31H985.4V446.45ZM1014.2 446.45V445.56H1015.1V445.27H1016V444.95H1016.9V444.6H1017.8V444.07H1018.7V443.54H1019.6V443.43H1020.5V443.19H1021.4V442.77H1022.3V442.54H1023.2V442.29H1024.1V442.51H1025V442.04H1025.9V441.98H1026.8V442.06H1027.7V442.22H1028.6V441.7H1029.5V442.15H1030.4V441.86H1031.3V442.32H1032.2V442.41H1033.1V442.18H1034V442.53H1034.9V442.24H1035.8V442.69H1036.7V443.1H1037.6V443.4H1038.5V443.68H1039.4V444H1040.3V444.35H1041.2V444.91H1042.1V445.2H1043V445.5H1043.9V446.45ZM1068.2 446.45V445.21H1069.1V444.63H1070V444.15H1070.9V443.89H1071.8V443.71H1072.7V443.65H1073.6V443.81H1074.5V443.82H1075.4V443.52H1076.3V443.6H1076.9V446.45Z" fill="#339fca"/>
<text x="599.4" y="461.55" fill="#6c32a4" text-anchor="middle" font-size="14.4" textLength="392.6">BDTNP Chromatin Accessibility (DNase) Stage 14, Replicate 2</text>
<line x1="119.6" y1="480.95" x2="1076.9" y2="480.95" stroke="#6c32a4" stroke-width="1.3"/>
<path d="M127.7 481.55V480.21H128.6V479.85H129.5V479.85H130.4V480.25H131.3V481.55ZM189.8 481.55V480.43H190.7V481.55ZM265.4 481.55V479.74H266.3V479.85H267.2V479.65H268.1V479.78H269V479.73H269.9V479.61H270.8V479.6H271.7V479.68H272.6V479.77H273.5V479.69H274.4V479.73H275.3V479.64H276.2V479.82H277.1V479.81H278V479.97H278.9V481.55ZM313.1 481.55V480.53H314V480.02H314.9V480.42H315.8V481.55ZM329.3 481.55V480.11H330.2V479.93H331.1V479.88H332V479.68H332.9V479.82H333.8V479.76H334.7V479.79H335.6V480.51H336.5V481.55ZM400.4 481.55V480.4H401.3V481.55ZM456.2 481.55V480.52H457.1V480.08H458V480H458.9V480.55H459.8V481.55ZM612.8 481.55V480.39H613.7V479.91H614.6V479.48H615.5V478.96H616.4V478.97H617.3V478.76H618.2V478.6H619.1V478.32H620V478.26H620.9V478.46H621.8V478.5H622.7V478.43H623.6V478.43H624.5V478.29H625.4V478.68H626.3V478.5H627.2V478.59H628.1V478.74H629V479.05H629.9V479.48H630.8V479.94H631.7V480.32H632.6V480.64H633.5V481.55ZM657.8 481.55V480.44H658.7V480.22H659.6V480.13H660.5V480.04H661.4V480.07H662.3V479.95H663.2V479.95H664.1V479.92H665V480.03H665.9V480.06H666.8V480.05H667.7V479.97H668.6V479.93H669.5V479.98H670.4V480.01H671.3V479.98H672.2V479.95H673.1V479.94H674V479.94H674.9V479.93H675.8V479.96H676.7V480.06H677.6V479.96H678.5V480.05H679.4V480.02H680.3V480.07H681.2V480.02H682.1V480.18H683V480.5H683.9V481.55ZM693.8 481.55V480.57H694.7V480.32H695.6V480.16H696.5V480.08H697.4V480.05H698.3V480.3H699.2V480.58H700.1V481.55ZM732.5 481.55V480.26H733.4V480.27H734.3V481.55ZM980 481.55V480.63H980.9V480.13H981.8V480.39H982.7V481.55ZM1011.5 481.55V480.68H1012.4V480.46H1013.3V480.11H1014.2V479.88H1015.1V479.53H1016V479.43H1016.9V479.11H1017.8V479.13H1018.7V479.16H1019.6V478.96H1020.5V478.87H1021.4V479.12H1022.3V478.92H1023.2V478.89H1024.1V479.01H1025V478.94H1025.9V479.01H1026.8V478.99H1027.7V478.97H1028.6V478.85H1029.5V478.85H1030.4V479.02H1031.3V479.11H1032.2V479.03H1033.1V478.94H1034V479.13H1034.9V479.12H1035.8V479.19H1036.7V479.07H1037.6V479.3H1038.5V479.65H1039.4V479.89H1040.3V480.12H1041.2V480.38H1042.1V480.62H1043V481.55ZM1070 481.55V480.54H1070.9V480.19H1071.8V480.08H1072.7V479.95H1073.6V480.02H1074.5V479.96H1075.4V479.99H1076.3V479.98H1076.9V481.55Z" fill="#6c32a4"/>
<rect x="457.6" y="359.3" width="1.5" height="1.6" fill="#ff00c8"/>
<text x="599.4" y="496.5" fill="#000a64" text-anchor="middle" font-size="14.4" textLength="478.4">12 Flies, Mosquito, Honeybee, Beetle Multiz Alignments &amp; phastCons Scores</text>
<path d="M119.9 567.1V519.97H120.8V516.13H121.7V513.99H122.6V510.76H123.5V526.98H124.4V529.32H125.3V520.74H126.2V526.61H127.1V530.67H128V528.13H128.9V527.17H129.8V532.33H130.7V530.26H131.6V525.81H132.5V543.18H133.4V533.02H134.3V535.29H135.2V532.93H136.1V532.42H137V534.04H137.9V532.29H138.8V533.45H139.7V533.72H140.6V531.35H141.5V531.89H142.4V525.23H143.3V518.21H144.2V514.48H145.1V514.53H146V521.18H146.9V532.11H147.8V531.16H148.7V525.68H149.6V522.31H150.5V519.73H151.4V533.54H152.3V531.96H153.2V534.51H154.1V535.78H155V527.86H155.9V521.58H156.8V513.96H157.7V528.05H158.6V521.25H159.5V519.4H160.4V524.07H161.3V533.67H162.2V527.04H163.1V531.46H164V530.73H164.9V531.63H165.8V532.48H166.7V532.77H167.6V531.73H168.5V532.06H169.4V531.2H170.3V533.35H171.2V532.78H172.1V533.67H173V532.72H173.9V531.29H174.8V532.09H175.7V529.8H176.6V529.43H177.5V531.31H178.4V528.16H179.3V528.46H180.2V526.8H181.1V527.03H182V529.98H182.9V529.4H183.8V529.31H184.7V538.73H185.6V529.41H186.5V527.8H187.4V524.65H188.3V527.62H189.2V530.05H190.1V529.81H191V541.79H191.9V526.58H192.8V520.27H193.7V524.19H194.6V523.65H195.5V533.13H196.4V525.7H197.3V525.06H198.2V533.36H199.1V532.78H200V534.07H200.9V526.68H201.8V522.2H202.7V511.11H203.6V509.85H204.5V513.79H205.4V512.94H206.3V518.65H207.2V518.43H208.1V523.01H209V530.78H209.9V535.16H210.8V533.76H211.7V524.66H212.6V530.39H213.5V529.18H214.4V532.54H215.3V530.71H216.2V532.31H217.1V534.44H218V535.68H218.9V534.93H219.8V536.9H220.7V535.78H221.6V537.28H222.5V535.1H223.4V534.62H224.3V533.11H225.2V533.34H226.1V534.97H227V533.24H227.9V529.34H228.8V525.31H229.7V530.39H230.6V532.09H231.5V531.72H232.4V532.5H233.3V542.92H234.2V521.27H235.1V515.87H236V514.09H236.9V516.45H237.8V529.43H238.7V534.04H239.6V528.02H240.5V516.82H241.4V523.5H242.3V512.71H243.2V511.59H244.1V513.89H245V534.31H245.9V538.58H246.8V527.96H247.7V520.44H248.6V521.2H249.5V526.95H250.4V533.13H251.3V542.17H252.2V532.43H253.1V533.37H254V533.12H254.9V525.01H255.8V513.68H256.7V516.27H257.6V527.57H258.5V536.42H259.4V529.41H260.3V523.44H261.2V515.89H262.1V533.19H263V529.65H263.9V519.73H264.8V525.4H265.7V530.72H266.6V534.31H267.5V536.94H268.4V535.2H269.3V526.26H270.2V527.18H271.1V520.37H272V511.51H272.9V514.6H273.8V529.35H274.7V533.07H275.6V522.51H276.5V517.49H277.4V514.62H278.3V523.65H279.2V531.91H280.1V532.95H281V525.35H281.9V517.71H282.8V515.39H283.7V529.58H284.6V537.93H285.5V521.31H286.4V522.52H287.3V526.42H288.2V524.18H289.1V529.74H290V527.96H290.9V523.3H291.8V520.41H292.7V528.02H293.6V529.71H294.5V533.68H295.4V537.49H296.3V538.62H297.2V534.38H298.1V532.29H299V530.09H299.9V531.9H300.8V530.99H301.7V532.91H302.6V531.16H303.5V532.06H304.4V536.88H305.3V533.79H306.2V532.18H307.1V537.79H308V529.34H308.9V527.13H309.8V528.67H310.7V516.04H311.6V516.81H312.5V516.95H313.4V513.21H314.3V510.77H315.2V510.23H316.1V527.23H317V536.86H317.9V536.13H318.8V534.52H319.7V535.86H320.6V535.4H321.5V530.28H322.4V525.57H323.3V533.98H324.2V511.61H325.1V513.49H326V511.39H326.9V516.81H327.8V523.01H328.7V518.37H329.6V518.27H330.5V519.36H331.4V511.86H332.3V527.87H333.2V534.36H334.1V528.2H335V524.67H335.9V530.16H336.8V529.77H337.7V529.14H338.6V541.82H339.5V542.1H340.4V529.79H341.3V533.54H342.2V537.8H343.1V525.18H344V516.55H344.9V511.63H345.8V531.26H346.7V524.86H347.6V533.62H348.5V533.93H349.4V534.36H350.3V534.28H351.2V533.99H352.1V534.97H353V535.68H353.9V538.75H354.8V537.76H355.7V535.18H356.6V535.08H357.5V534.13H358.4V533.16H359.3V536.4H360.2V546.14H361.1V532.8H362V542.93H362.9V532.42H363.8V537.61H364.7V537.51H365.6V536.79H366.5V540.03H367.4V539.84H368.3V538.1H369.2V535.95H370.1V533.35H371V527.56H371.9V525.52H372.8V524.41H373.7V538.25H374.6V522.6H375.5V515.78H376.4V513.01H377.3V543.62H378.2V532.24H379.1V532.63H380V517.66H380.9V512.55H381.8V511.95H382.7V516.13H383.6V531.01H384.5V537.95H385.4V539.63H386.3V535.49H387.2V529.11H388.1V526.82H389V520.5H389.9V521.93H390.8V530.35H391.7V519.71H392.6V521.84H393.5V530.2H394.4V529.75H395.3V536.57H396.2V529.85H397.1V524.67H398V524.74H398.9V527.38H399.8V528.88H400.7V526.89H401.6V535.65H402.5V548.13H403.4V536.32H404.3V534.22H405.2V532.9H406.1V521.32H407V519.67H407.9V528.19H408.8V521.46H409.7V519.47H410.6V527.66H411.5V532.5H412.4V534.59H413.3V534.16H414.2V532.96H415.1V531.76H416V529.24H416.9V532.98H417.8V533.73H418.7V534.34H419.6V533.85H420.5V534.04H421.4V534.49H422.3V532.87H423.2V532.98H424.1V525.48H425V520.59H425.9V517.95H426.8V521.47H427.7V525.25H428.6V518.93H429.5V517.36H430.4V517.42H431.3V514.08H432.2V517.54H433.1V516.85H434V520.64H434.9V523.89H435.8V544.4H436.7V532.99H437.6V526.72H438.5V520.65H439.4V528.55H440.3V525.5H441.2V513.59H442.1V530.68H443V513.72H443.9V510.65H444.8V520.98H445.7V527.22H446.6V527.83H447.5V530.38H448.4V533.21H449.3V536.77H450.2V539.46H451.1V543.06H452V550.23H452.9V542.99H453.8V535.71H454.7V528.63H455.6V529.86H456.5V544.55H457.4V530.91H458.3V534.13H459.2V532.89H460.1V534.45H461V527.72H461.9V525.63H462.8V545.75H463.7V532.18H464.6V528.31H465.5V527.19H466.4V525.52H467.3V519.17H468.2V513.34H469.1V513.71H470V516.65H470.9V525.46H471.8V522.71H472.7V530.42H473.6V539.81H474.5V539.42H475.4V541.33H476.3V540.16H477.2V536.54H478.1V535.01H479V531.91H479.9V529.29H480.8V530.83H481.7V543.84H482.6V533.62H483.5V536.09H484.4V531.26H485.3V523.97H486.2V516.52H487.1V518.97H488V520.94H488.9V515.99H489.8V520.8H490.7V532.88H491.6V535.31H492.5V533.4H493.4V528.75H494.3V528.06H495.2V533.34H496.1V520.29H497V519.01H497.9V518.21H498.8V531.63H499.7V518.92H500.6V512.84H501.5V515.34H502.4V518.36H503.3V520.68H504.2V528.06H505.1V532.59H506V534.61H506.9V532.29H507.8V529.43H508.7V524.93H509.6V528.53H510.5V532.87H511.4V538.99H512.3V537.23H513.2V542.01H514.1V537.94H515V540.22H515.9V538.63H516.8V535.86H517.7V535.74H518.6V533.2H519.5V533.79H520.4V534.59H521.3V534.49H522.2V535.03H523.1V533.91H524V532.97H524.9V531.5H525.8V528.55H526.7V531.66H527.6V532.38H528.5V532.69H529.4V530.82H530.3V531.41H531.2V534.02H532.1V532.29H533V534.58H533.9V533.36H534.8V531.61H535.7V536.08H536.6V535.43H537.5V533.66H538.4V517.91H539.3V509.48H540.2V506.79H541.1V510.49H542V516.17H542.9V517.39H543.8V515.22H544.7V528.75H545.6V529.34H546.5V525.94H547.4V525.84H548.3V522.59H549.2V514.83H550.1V515.52H551V519.57H551.9V517.43H552.8V516.05H553.7V517.86H554.6V526.05H555.5V531.1H556.4V535.33H557.3V531.61H558.2V526.71H559.1V517.4H560V513.78H560.9V514.96H561.8V516.36H562.7V521.17H563.6V513.29H564.5V510.18H565.4V518.02H566.3V515.02H567.2V512.52H568.1V511.51H569V515.58H569.9V513.26H570.8V513.72H571.7V532.87H572.6V511.7H573.5V513.2H574.4V520.23H575.3V522.4H576.2V545.74H577.1V531.92H578V530.25H578.9V532.69H579.8V536.27H580.7V540.48H581.6V544.59H582.5V536.08H583.4V534.33H584.3V534.66H585.2V535.52H586.1V534.83H587V531.95H587.9V533.8H588.8V538.75H589.7V536.52H590.6V535.43H591.5V536.41H592.4V533.32H593.3V532.54H594.2V541.83H595.1V539.74H596V540.26H596.9V546.25H597.8V538.49H598.7V532.3H599.6V534.36H600.5V529.18H601.4V527.11H602.3V526.56H603.2V518.6H604.1V515.29H605V513.54H605.9V522.08H606.8V538.46H607.7V532.9H608.6V529.72H609.5V528.89H610.4V532.07H611.3V533.66H612.2V525.43H613.1V518.95H614V512.98H614.9V507.47H615.8V510.51H616.7V509.2H617.6V515.22H618.5V513.24H619.4V526.3H620.3V532.48H621.2V529.22H622.1V526.2H623V525.23H623.9V529.6H624.8V535.03H625.7V529.73H626.6V529.43H627.5V532.27H628.4V523.18H629.3V530.47H630.2V523.39H631.1V522.28H632V523.55H632.9V527.19H633.8V531.13H634.7V539.81H635.6V532.7H636.5V536.31H637.4V533.91H638.3V536.6H639.2V547.39H640.1V536.71H641V533.15H641.9V535.71H642.8V532.72H643.7V536.63H644.6V539.84H645.5V541.71H646.4V541.35H647.3V538.21H648.2V537.24H649.1V537.11H650V542.87H650.9V535.02H651.8V541.11H652.7V538.53H653.6V534.67H654.5V531.3H655.4V529.42H656.3V529.38H657.2V530.12H658.1V525.22H659V522.63H659.9V524.83H660.8V524.14H661.7V515.35H662.6V535.49H663.5V536.19H664.4V525.33H665.3V512.7H666.2V511.84H667.1V506.96H668V507.11H668.9V506.78H669.8V507.32H670.7V541.05H671.6V533.31H672.5V524.02H673.4V516.1H674.3V520.7H675.2V526.53H676.1V531.01H677V529.42H677.9V515.38H678.8V525.88H679.7V537.07H680.6V533.41H681.5V533.59H682.4V523.02H683.3V510.8H684.2V509.53H685.1V532.82H686V537.02H686.9V536.16H687.8V525.84H688.7V510.63H689.6V506.96H690.5V508.92H691.4V505.51H692.3V504.28H693.2V522.48H694.1V509.12H695V509.61H695.9V528.9H696.8V542.4H697.7V530.28H698.6V537.01H699.5V534.12H700.4V532.95H701.3V532.88H702.2V529.86H703.1V531.44H704V534.07H704.9V532.2H705.8V533.89H706.7V536.1H707.6V535.18H708.5V531.87H709.4V532.01H710.3V528.17H711.2V527.69H712.1V530.35H713V529.86H713.9V530.57H714.8V529.75H715.7V524.57H716.6V523.64H717.5V520.11H718.4V517.78H719.3V526.12H720.2V528.28H721.1V523.54H722V522.85H722.9V521.1H723.8V525.69H724.7V535.66H725.6V536.11H726.5V533.81H727.4V527.79H728.3V527.12H729.2V533.02H730.1V538.45H731V531.26H731.9V536.55H732.8V517.21H733.7V539.67H734.6V532.57H735.5V519.56H736.4V516.63H737.3V522.58H738.2V527.19H739.1V536.66H740V524.93H740.9V509.96H741.8V507.76H742.7V514.6H743.6V516.72H744.5V534.04H745.4V538.83H746.3V525.97H747.2V512.76H748.1V519.4H749V526.65H749.9V522.56H750.8V527.88H751.7V533.39H752.6V527.45H753.5V524.86H754.4V530.67H755.3V534.09H756.2V535.46H757.1V533.91H758V534.34H758.9V536.11H759.8V533.98H760.7V529H761.6V526.92H762.5V517.89H763.4V517.18H764.3V521.54H765.2V524.24H766.1V534.64H767V524.62H767.9V522.25H768.8V521.93H769.7V516.72H770.6V526.26H771.5V534.5H772.4V536.82H773.3V534.27H774.2V534.48H775.1V535.83H776V534.89H776.9V532.95H777.8V534.27H778.7V535.14H779.6V532.69H780.5V530.98H781.4V529.99H782.3V534.65H783.2V535.34H784.1V536.21H785V529.08H785.9V528.83H786.8V530.96H787.7V532.63H788.6V530.13H789.5V521.96H790.4V523.46H791.3V537.72H792.2V507.72H793.1V506.3H794V510.16H794.9V511.46H795.8V515.01H796.7V518.86H797.6V513.86H798.5V510.55H799.4V522.51H800.3V531.93H801.2V529.56H802.1V530.05H803V522.63H803.9V508.73H804.8V511.38H805.7V543.87H806.6V540.97H807.5V537.95H808.4V530.78H809.3V527.03H810.2V517.14H811.1V521.96H812V526.53H812.9V514.38H813.8V515.41H814.7V521.38H815.6V511.37H816.5V509.4H817.4V510.25H818.3V507.7H819.2V519.47H820.1V524.49H821V523.58H821.9V530.21H822.8V532.4H823.7V538.48H824.6V539.96H825.5V538.43H826.4V527.86H827.3V519.54H828.2V523.43H829.1V531.67H830V519.82H830.9V513.63H831.8V512.06H832.7V508.71H833.6V510.88H834.5V512.18H835.4V512.71H836.3V512.47H837.2V515.99H838.1V519.45H839V527.74H839.9V532.2H840.8V530.83H841.7V530.1H842.6V532.8H843.5V532.67H844.4V531.28H845.3V533.07H846.2V533.38H847.1V544.96H848V535.2H848.9V535.8H849.8V536.02H850.7V535.32H851.6V535.45H852.5V537.32H853.4V537.52H854.3V544.39H855.2V537.39H856.1V533.97H857V531.35H857.9V532.59H858.8V534.14H859.7V529.73H860.6V529.38H861.5V522.09H862.4V528.11H863.3V526.99H864.2V523.32H865.1V516.03H866V512.44H866.9V531.01H867.8V509.77H868.7V510.4H869.6V521.39H870.5V524.65H871.4V527.28H872.3V532.14H873.2V521.85H874.1V514.09H875V519.99H875.9V532.02H876.8V539.95H877.7V531.87H878.6V523.37H879.5V529.77H880.4V535.77H881.3V532.76H882.2V535.98H883.1V542.81H884V533.6H884.9V522.64H885.8V521.57H886.7V530.99H887.6V533.08H888.5V536.48H889.4V542.91H890.3V543.66H891.2V547.48H892.1V536.25H893V535.42H893.9V535.62H894.8V535.69H895.7V536.12H896.6V534.13H897.5V528.87H898.4V519.93H899.3V514.23H900.2V515.13H901.1V512.69H902V517.22H902.9V526.1H903.8V533.58H904.7V537.19H905.6V540.09H906.5V538.92H907.4V528.23H908.3V517.24H909.2V514.03H910.1V513.25H911V511.39H911.9V517.19H912.8V532.05H913.7V545.81H914.6V527.89H915.5V530.74H916.4V532.46H917.3V537.57H918.2V536.32H919.1V535.96H920V540.28H920.9V547.48H921.8V533.74H922.7V527.88H923.6V525.13H924.5V529.19H925.4V538.11H926.3V531.15H927.2V535.28H928.1V536.89H929V535.36H929.9V532.75H930.8V532.33H931.7V531.99H932.6V528.41H933.5V527.32H934.4V529.46H935.3V529.77H936.2V532.86H937.1V533.86H938V535.1H938.9V534.24H939.8V532.02H940.7V528.35H941.6V528.62H942.5V523.57H943.4V516.84H944.3V518.26H945.2V519.08H946.1V526.69H947V530.96H947.9V531.37H948.8V526.49H949.7V530.68H950.6V538.29H951.5V528.78H952.4V522.99H953.3V514.24H954.2V510.18H955.1V510.51H956V510.4H956.9V511.35H957.8V510.96H958.7V511.43H959.6V521.93H960.5V530.83H961.4V530.03H962.3V533.57H963.2V533.31H964.1V534.54H965V535.08H965.9V533.94H966.8V532.37H967.7V531.44H968.6V530.46H969.5V525.55H970.4V524.57H971.3V522.19H972.2V521.41H973.1V530.41H974V533.46H974.9V532.76H975.8V531.21H976.7V525.74H977.6V523.17H978.5V520.36H979.4V521.15H980.3V525.23H981.2V525.91H982.1V527.23H983V531.88H983.9V534.96H984.8V533.47H985.7V538.56H986.6V527.64H987.5V525.34H988.4V526.69H989.3V523.67H990.2V523.61H991.1V527.94H992V528.95H992.9V530.16H993.8V535.91H994.7V536.57H995.6V533.93H996.5V539.35H997.4V537.42H998.3V537.8H999.2V542.2H1000.1V541.69H1001V549.15H1001.9V535.26H1002.8V536.89H1003.7V539.79H1004.6V539.73H1005.5V532.76H1006.4V530.86H1007.3V532.27H1008.2V533.12H1009.1V528.18H1010V522.75H1010.9V534.57H1011.8V531.46H1012.7V519.96H1013.6V517.97H1014.5V521.69H1015.4V512.96H1016.3V519.03H1017.2V523.5H1018.1V513.47H1019V514.78H1019.9V514.93H1020.8V531.62H1021.7V521.81H1022.6V530.32H1023.5V537.33H1024.4V533.23H1025.3V527.88H1026.2V534.2H1027.1V535.73H1028V537.23H1028.9V539.66H1029.8V517.2H1030.7V513.86H1031.6V511.42H1032.5V516.88H1033.4V514.31H1034.3V523.36H1035.2V535.83H1036.1V530.39H1037V516.61H1037.9V517.79H1038.8V515.26H1039.7V524.55H1040.6V520.29H1041.5V513.42H1042.4V522.78H1043.3V526.7H1044.2V514.76H1045.1V530.87H1046V514.01H1046.9V517.06H1047.8V519.28H1048.7V528.17H1049.6V532.16H1050.5V534.18H1051.4V532.77H1052.3V533.59H1053.2V535.09H1054.1V545.52H1055V533.11H1055.9V533.23H1056.8V532.47H1057.7V534.4H1058.6V531.49H1059.5V531.94H1060.4V534.99H1061.3V536.84H1062.2V543.09H1063.1V536.38H1064V532.4H1064.9V532.16H1065.8V526.07H1066.7V523.95H1067.6V529.52H1068.5V535.06H1069.4V519.35H1070.3V526.54H1071.2V536.65H1072.1V537.32H1073V530.76H1073.9V525.61H1074.8V529.07H1075.7V522.99H1076.6V531.24H1076.9V567.1Z" fill="#000a64"/>
<path d="M124.25 528.82V567.1H125.5V528.82ZM125.15 520.24V567.1H126.4V520.24ZM129.65 531.83V567.1H130.9V531.83ZM135.95 531.92V567.1H137.2V531.92ZM136.85 533.54V567.1H138.1V533.54ZM138.65 532.95V567.1H139.9V532.95ZM144.05 513.98V567.1H145.3V513.98ZM155.75 521.08V567.1H157V521.08ZM159.35 518.9V567.1H160.6V518.9ZM173.75 530.79V567.1H175V530.79ZM174.65 531.59V567.1H175.9V531.59ZM179.15 527.96V567.1H180.4V527.96ZM180.95 526.53V567.1H182.2V526.53ZM187.25 524.15V567.1H188.5V524.15ZM189.95 529.31V567.1H191.2V529.31ZM204.35 513.29V567.1H205.6V513.29ZM205.25 512.44V567.1H206.5V512.44ZM216.05 531.81V567.1H217.3V531.81ZM217.85 535.18V567.1H219.1V535.18ZM223.25 534.12V567.1H224.5V534.12ZM234.05 520.77V567.1H235.3V520.77ZM235.85 513.59V567.1H237.1V513.59ZM236.75 515.95V567.1H238V515.95ZM243.05 511.09V567.1H244.3V511.09ZM250.25 532.63V567.1H251.5V532.63ZM255.65 513.18V567.1H256.9V513.18ZM261.95 532.69V567.1H263.2V532.69ZM267.35 536.44V567.1H268.6V536.44ZM270.95 519.87V567.1H272.2V519.87ZM274.55 532.57V567.1H275.8V532.57ZM275.45 522.01V567.1H276.7V522.01ZM282.65 514.89V567.1H283.9V514.89ZM284.45 537.43V567.1H285.7V537.43ZM286.25 522.02V567.1H287.5V522.02ZM287.15 525.92V567.1H288.4V525.92ZM292.55 527.52V567.1H293.8V527.52ZM294.35 533.18V567.1H295.6V533.18ZM296.15 538.12V567.1H297.4V538.12ZM300.65 530.49V567.1H301.9V530.49ZM305.15 533.29V567.1H306.4V533.29ZM306.95 537.29V567.1H308.2V537.29ZM318.65 534.02V567.1H319.9V534.02ZM321.35 529.78V567.1H322.6V529.78ZM322.25 525.07V567.1H323.5V525.07ZM324.05 511.11V567.1H325.3V511.11ZM331.25 511.36V567.1H332.5V511.36ZM333.05 533.86V567.1H334.3V533.86ZM334.85 524.17V567.1H336.1V524.17ZM336.65 529.27V567.1H337.9V529.27ZM340.25 529.29V567.1H341.5V529.29ZM342.05 537.3V567.1H343.3V537.3ZM355.55 534.68V567.1H356.8V534.68ZM369.05 535.45V567.1H370.3V535.45ZM375.35 515.28V567.1H376.6V515.28ZM379.85 517.16V567.1H381.1V517.16ZM407.75 527.69V567.1H409V527.69ZM410.45 527.16V567.1H411.7V527.16ZM411.35 532V567.1H412.6V532ZM416.75 532.48V567.1H418V532.48ZM426.65 520.97V567.1H427.9V520.97ZM428.45 518.43V567.1H429.7V518.43ZM431.15 513.58V567.1H432.4V513.58ZM434.75 523.39V567.1H436V523.39ZM437.45 526.22V567.1H438.7V526.22ZM440.15 525V567.1H441.4V525ZM441.05 513.09V567.1H442.3V513.09ZM444.65 520.48V567.1H445.9V520.48ZM447.35 529.88V567.1H448.6V529.88ZM450.95 542.56V567.1H452.2V542.56ZM451.85 549.73V567.1H453.1V549.73ZM456.35 544.05V567.1H457.6V544.05ZM457.25 530.41V567.1H458.5V530.41ZM461.75 525.13V567.1H463V525.13ZM468.95 513.21V567.1H470.2V513.21ZM473.45 539.31V567.1H474.7V539.31ZM475.25 540.83V567.1H476.5V540.83ZM478.85 531.41V567.1H480.1V531.41ZM479.75 528.79V567.1H481V528.79ZM487.85 520.44V567.1H489.1V520.44ZM489.65 520.3V567.1H490.9V520.3ZM490.55 532.38V567.1H491.8V532.38ZM498.65 531.13V567.1H499.9V531.13ZM509.45 528.03V567.1H510.7V528.03ZM513.05 541.51V567.1H514.3V541.51ZM514.85 539.72V567.1H516.1V539.72ZM519.35 533.29V567.1H520.6V533.29ZM520.25 534.09V567.1H521.5V534.09ZM521.15 533.99V567.1H522.4V533.99ZM530.15 530.91V567.1H531.4V530.91ZM531.05 533.52V567.1H532.3V533.52ZM538.25 517.41V567.1H539.5V517.41ZM543.65 514.72V567.1H544.9V514.72ZM544.55 528.25V567.1H545.8V528.25ZM548.15 522.09V567.1H549.4V522.09ZM556.25 534.83V567.1H557.5V534.83ZM567.05 512.02V567.1H568.3V512.02ZM570.65 513.22V567.1H571.9V513.22ZM572.45 511.2V567.1H573.7V511.2ZM584.15 534.16V567.1H585.4V534.16ZM587.75 533.3V567.1H589V533.3ZM593.15 532.04V567.1H594.4V532.04ZM602.15 526.06V567.1H603.4V526.06ZM604.85 513.04V567.1H606.1V513.04ZM608.45 529.22V567.1H609.7V529.22ZM616.55 508.7V567.1H617.8V508.7ZM619.25 525.8V567.1H620.5V525.8ZM627.35 531.77V567.1H628.6V531.77ZM633.65 530.63V567.1H634.9V530.63ZM646.25 540.85V567.1H647.5V540.85ZM652.55 538.03V567.1H653.8V538.03ZM653.45 534.17V567.1H654.7V534.17ZM657.05 529.62V567.1H658.3V529.62ZM657.95 524.72V567.1H659.2V524.72ZM670.55 540.55V567.1H671.8V540.55ZM676.85 528.92V567.1H678.1V528.92ZM682.25 522.52V567.1H683.5V522.52ZM684.05 509.03V567.1H685.3V509.03ZM686.75 535.66V567.1H688V535.66ZM688.55 510.13V567.1H689.8V510.13ZM698.45 536.51V567.1H699.7V536.51ZM701.15 532.38V567.1H702.4V532.38ZM703.85 533.57V567.1H705.1V533.57ZM714.65 529.25V567.1H715.9V529.25ZM715.55 524.07V567.1H716.8V524.07ZM720.05 527.78V567.1H721.3V527.78ZM721.85 522.35V567.1H723.1V522.35ZM724.55 535.16V567.1H725.8V535.16ZM733.55 539.17V567.1H734.8V539.17ZM738.95 536.16V567.1H740.2V536.16ZM743.45 516.22V567.1H744.7V516.22ZM774.95 535.33V567.1H776.2V535.33ZM780.35 530.48V567.1H781.6V530.48ZM790.25 522.96V567.1H791.5V522.96ZM793.85 509.66V567.1H795.1V509.66ZM808.25 530.28V567.1H809.5V530.28ZM826.25 527.36V567.1H827.5V527.36ZM830.75 513.13V567.1H832V513.13ZM836.15 511.97V567.1H837.4V511.97ZM853.25 537.02V567.1H854.5V537.02ZM858.65 533.64V567.1H859.9V533.64ZM861.35 521.59V567.1H862.6V521.59ZM862.25 527.61V567.1H863.5V527.61ZM864.05 522.82V567.1H865.3V522.82ZM864.95 515.53V567.1H866.2V515.53ZM871.25 526.78V567.1H872.5V526.78ZM873.95 513.59V567.1H875.2V513.59ZM877.55 531.37V567.1H878.8V531.37ZM880.25 535.27V567.1H881.5V535.27ZM881.15 532.26V567.1H882.4V532.26ZM884.75 522.14V567.1H886V522.14ZM885.65 521.07V567.1H886.9V521.07ZM888.35 535.98V567.1H889.6V535.98ZM895.55 535.62V567.1H896.8V535.62ZM915.35 530.24V567.1H916.6V530.24ZM925.25 537.61V567.1H926.5V537.61ZM926.15 530.65V567.1H927.4V530.65ZM930.65 531.83V567.1H931.9V531.83ZM936.95 533.36V567.1H938.2V533.36ZM937.85 534.6V567.1H939.1V534.6ZM942.35 523.07V567.1H943.6V523.07ZM944.15 517.76V567.1H945.4V517.76ZM945.95 526.19V567.1H947.2V526.19ZM950.45 537.79V567.1H951.7V537.79ZM951.35 528.28V567.1H952.6V528.28ZM963.95 534.04V567.1H965.2V534.04ZM965.75 533.44V567.1H967V533.44ZM966.65 531.87V567.1H967.9V531.87ZM968.45 529.96V567.1H969.7V529.96ZM971.15 521.69V567.1H972.4V521.69ZM972.05 520.91V567.1H973.3V520.91ZM972.95 529.91V567.1H974.2V529.91ZM975.65 530.71V567.1H976.9V530.71ZM979.25 520.65V567.1H980.5V520.65ZM981.95 526.73V567.1H983.2V526.73ZM989.15 523.17V567.1H990.4V523.17ZM993.65 535.41V567.1H994.9V535.41ZM995.45 533.43V567.1H996.7V533.43ZM999.95 541.19V567.1H1001.2V541.19ZM1001.75 534.76V567.1H1003V534.76ZM1002.65 536.39V567.1H1003.9V536.39ZM1003.55 539.29V567.1H1004.8V539.29ZM1010.75 534.07V567.1H1012V534.07ZM1016.15 518.53V567.1H1017.4V518.53ZM1028.75 539.16V567.1H1030V539.16ZM1029.65 516.7V567.1H1030.9V516.7ZM1041.35 512.92V567.1H1042.6V512.92ZM1058.45 530.99V567.1H1059.7V530.99ZM1059.35 531.44V567.1H1060.6V531.44ZM1060.25 534.49V567.1H1061.5V534.49ZM1066.55 523.45V567.1H1067.8V523.45ZM1071.05 536.15V567.1H1072.3V536.15ZM1072.85 530.26V567.1H1074.1V530.26Z" fill="#fff" fill-opacity="0.16"/>
<path d="M122.45 510.26V567.1H123.7V510.26ZM148.55 525.18V567.1H149.8V525.18ZM151.25 533.04V567.1H152.5V533.04ZM168.35 531.56V567.1H169.6V531.56ZM171.05 532.28V567.1H172.3V532.28ZM184.55 538.23V567.1H185.8V538.23ZM198.05 532.86V567.1H199.3V532.86ZM203.45 509.35V567.1H204.7V509.35ZM221.45 536.78V567.1H222.7V536.78ZM225.95 534.47V567.1H227.2V534.47ZM227.75 528.84V567.1H229V528.84ZM229.55 529.89V567.1H230.8V529.89ZM230.45 531.59V567.1H231.7V531.59ZM246.65 527.46V567.1H247.9V527.46ZM288.95 529.24V567.1H290.2V529.24ZM297.05 533.88V567.1H298.3V533.88ZM308.75 526.63V567.1H310V526.63ZM309.65 528.17V567.1H310.9V528.17ZM320.45 534.9V567.1H321.7V534.9ZM323.15 533.48V567.1H324.4V533.48ZM328.55 517.87V567.1H329.8V517.87ZM335.75 529.66V567.1H337V529.66ZM353.75 538.25V567.1H355V538.25ZM371.75 525.02V567.1H373V525.02ZM374.45 522.1V567.1H375.7V522.1ZM383.45 530.51V567.1H384.7V530.51ZM389.75 521.43V567.1H391V521.43ZM393.35 529.7V567.1H394.6V529.7ZM395.15 536.07V567.1H396.4V536.07ZM396.95 524.17V567.1H398.2V524.17ZM397.85 524.24V567.1H399.1V524.24ZM405.05 532.4V567.1H406.3V532.4ZM405.95 520.82V567.1H407.2V520.82ZM409.55 518.97V567.1H410.8V518.97ZM500.45 512.34V567.1H501.7V512.34ZM537.35 533.16V567.1H538.6V533.16ZM547.25 525.34V567.1H548.5V525.34ZM554.45 525.55V567.1H555.7V525.55ZM557.15 531.11V567.1H558.4V531.11ZM574.25 519.73V567.1H575.5V519.73ZM575.15 521.9V567.1H576.4V521.9ZM577.85 529.75V567.1H579.1V529.75ZM578.75 532.19V567.1H580V532.19ZM579.65 535.77V567.1H580.9V535.77ZM581.45 544.09V567.1H582.7V544.09ZM590.45 534.93V567.1H591.7V534.93ZM603.95 514.79V567.1H605.2V514.79ZM612.95 518.45V567.1H614.2V518.45ZM625.55 529.23V567.1H626.8V529.23ZM628.25 522.68V567.1H629.5V522.68ZM638.15 536.1V567.1H639.4V536.1ZM639.95 536.21V567.1H641.2V536.21ZM640.85 532.65V567.1H642.1V532.65ZM648.95 536.61V567.1H650.2V536.61ZM664.25 524.83V567.1H665.5V524.83ZM665.15 512.2V567.1H666.4V512.2ZM674.15 520.2V567.1H675.4V520.2ZM680.45 532.91V567.1H681.7V532.91ZM687.65 525.34V567.1H688.9V525.34ZM704.75 531.7V567.1H706V531.7ZM705.65 533.39V567.1H706.9V533.39ZM708.35 531.37V567.1H709.6V531.37ZM717.35 519.61V567.1H718.6V519.61ZM718.25 517.28V567.1H719.5V517.28ZM730.85 530.76V567.1H732.1V530.76ZM739.85 524.43V567.1H741.1V524.43ZM740.75 509.46V567.1H742V509.46ZM747.05 512.26V567.1H748.3V512.26ZM751.55 532.89V567.1H752.8V532.89ZM754.25 530.17V567.1H755.5V530.17ZM757.85 533.84V567.1H759.1V533.84ZM761.45 526.42V567.1H762.7V526.42ZM772.25 536.32V567.1H773.5V536.32ZM781.25 529.49V567.1H782.5V529.49ZM786.65 530.46V567.1H787.9V530.46ZM838.85 527.24V567.1H840.1V527.24ZM842.45 532.3V567.1H843.7V532.3ZM868.55 509.9V567.1H869.8V509.9ZM873.05 521.35V567.1H874.3V521.35ZM874.85 519.49V567.1H876.1V519.49ZM891.95 535.75V567.1H893.2V535.75ZM902.75 525.6V567.1H904V525.6ZM908.15 516.74V567.1H909.4V516.74ZM920.75 546.98V567.1H922V546.98ZM924.35 528.69V567.1H925.6V528.69ZM927.05 534.78V567.1H928.3V534.78ZM940.55 527.85V567.1H941.8V527.85ZM941.45 528.12V567.1H942.7V528.12ZM947.75 530.87V567.1H949V530.87ZM976.55 525.24V567.1H977.8V525.24ZM985.55 538.06V567.1H986.8V538.06ZM1004.45 539.23V567.1H1005.7V539.23ZM1017.95 512.97V567.1H1019.2V512.97ZM1020.65 531.12V567.1H1021.9V531.12ZM1044.95 530.37V567.1H1046.2V530.37ZM1045.85 513.51V567.1H1047.1V513.51ZM1049.45 531.66V567.1H1050.7V531.66ZM1063.85 531.9V567.1H1065.1V531.9Z" fill="#fff" fill-opacity="0.3"/>
<text x="599.4" y="581.6" fill="#468246" text-anchor="middle" font-size="14.4" textLength="234.8">15 Insect Conservation by PhastCons</text>
<text x="0.6" y="595.8" fill="#468246" text-anchor="start" font-size="14.4" textLength="92.7">15 Insect Cons</text>
<text x="99.9" y="582.1" fill="#468246" text-anchor="start" font-size="14.4">1</text>
<text x="99" y="618.4" fill="#468246" text-anchor="start" font-size="14.4">0</text>
<g stroke="#468246" stroke-width="1.1">
<line x1="109.5" y1="584.1" x2="117.8" y2="584.1"/>
<line x1="109.5" y1="620.0" x2="117.8" y2="620.0"/>
</g>
<path d="M119.9 620.6V619.5H120.8V585.1H121.7V585.1H122.6V585.1H123.5V585.1H124.4V608.24H125.3V587.75H126.2V614.88H127.1V618.39H128V616.58H128.9V585.1H129.8V588.84H130.7V603.18H131.6V609.59H132.5V617.8H133.4V615.41H134.3V619.5H135.2V619.5H136.1V619.5H137V619.5H137.9V619.5H138.8V619.5H139.7V619.5H140.6V610.81H141.5V597H142.4V602.14H143.3V585.1H144.2V585.1H145.1V585.1H146V585.1H146.9V598.71H147.8V598.74H148.7V608.51H149.6V589.01H150.5V585.1H151.4V608.61H152.3V606.26H153.2V604.71H154.1V608.72H155V613.86H155.9V585.1H156.8V585.1H157.7V585.1H158.6V585.1H159.5V585.1H160.4V585.1H161.3V585.1H162.2V614.25H163.1V612.57H164V618.64H164.9V619.42H165.8V619.5H166.7V619.5H167.6V603.96H168.5V610.95H169.4V619.5H170.3V619.5H171.2V618.45H172.1V617.28H173V619.5H173.9V619.5H174.8V607.57H175.7V618.68H176.6V618.5H177.5V619.25H178.4V589.02H179.3V590.81H180.2V610.47H181.1V615.42H182V618.26H182.9V601.08H183.8V598.87H184.7V614.67H185.6V614.86H186.5V590.57H187.4V585.1H188.3V585.1H189.2V609.33H190.1V609.31H191V585.1H191.9V585.1H192.8V585.1H193.7V610.6H194.6V610.88H195.5V612.26H196.4V610.41H197.3V600.31H198.2V603.36H199.1V591.25H200V592.87H200.9V585.1H201.8V585.1H202.7V585.1H203.6V585.1H204.5V585.1H205.4V585.1H206.3V585.1H207.2V604.54H208.1V614.32H209V617.12H209.9V617.7H210.8V604.97H211.7V591.75H212.6V614.5H213.5V602.8H214.4V608.28H215.3V613.96H216.2V612.2H217.1V613.73H218V619.5H218.9V619.5H219.8V619.5H220.7V619.5H221.6V618.71H222.5V619.5H223.4V619.5H224.3V619.5H225.2V619.5H226.1V619.5H227V619.5H227.9V614.61H228.8V603.89H229.7V602.12H230.6V615.86H231.5V616.42H232.4V609.79H233.3V608.8H234.2V585.1H235.1V585.1H236V585.1H236.9V585.1H237.8V593.6H238.7V585.1H239.6V591.97H240.5V585.1H241.4V585.1H242.3V585.1H243.2V585.1H244.1V606.76H245V605.07H245.9V606.88H246.8V587.24H247.7V586.59H248.6V589.88H249.5V589.32H250.4V596.52H251.3V592.04H252.2V592.79H253.1V608.71H254V609.19H254.9V585.1H255.8V585.1H256.7V595.61H257.6V597.92H258.5V585.1H259.4V585.1H260.3V609.52H261.2V615.44H262.1V601.27H263V595.05H263.9V585.1H264.8V585.1H265.7V592.22H266.6V592.09H267.5V591.98H268.4V585.1H269.3V585.1H270.2V585.1H271.1V585.1H272V585.1H272.9V585.1H273.8V607.73H274.7V613.13H275.6V612.33H276.5V585.1H277.4V585.1H278.3V585.1H279.2V585.1H280.1V585.1H281V585.1H281.9V585.1H282.8V585.1H283.7V618.38H284.6V616.72H285.5V587.83H286.4V586.98H287.3V606.02H288.2V601.56H289.1V587.42H290V590.24H290.9V591.74H291.8V595.55H292.7V590.21H293.6V619.5H294.5V619.5H295.4V619.5H296.3V619.5H297.2V619.5H298.1V619.5H299V619.5H299.9V613.46H300.8V617.8H301.7V603.37H302.6V593.62H303.5V604.2H304.4V602.05H305.3V619.44H306.2V619.26H307.1V619.22H308V619.43H308.9V619.5H309.8V585.1H310.7V585.1H311.6V585.1H312.5V585.1H313.4V585.1H314.3V585.1H315.2V585.1H316.1V585.1H317V607.94H317.9V590.98H318.8V587.36H319.7V585.1H320.6V605.42H321.5V614.95H322.4V585.1H323.3V585.1H324.2V585.1H325.1V585.1H326V585.1H326.9V585.1H327.8V598.29H328.7V585.1H329.6V585.1H330.5V585.1H331.4V585.1H332.3V610.95H333.2V602.79H334.1V589.39H335V585.1H335.9V599.82H336.8V585.1H337.7V618.42H338.6V618.09H339.5V619.17H340.4V610.17H341.3V611.13H342.2V585.1H343.1V585.1H344V585.1H344.9V585.1H345.8V585.1H346.7V616.78H347.6V617.95H348.5V618.21H349.4V615.49H350.3V619.43H351.2V619.11H352.1V617.81H353V617.5H353.9V619.5H354.8V618.97H355.7V615.67H356.6V615.16H357.5V618.55H358.4V613.55H359.3V617.94H360.2V619.5H361.1V619.5H362V619.5H362.9V619.5H363.8V619.5H364.7V618.42H365.6V616.87H366.5V619.5H367.4V619.5H368.3V619.5H369.2V619.5H370.1V609.35H371V610.34H371.9V603.77H372.8V585.1H373.7V611.1H374.6V610.54H375.5V591.6H376.4V585.1H377.3V585.1H378.2V589H379.1V588.27H380V585.1H380.9V585.1H381.8V585.1H382.7V585.1H383.6V585.1H384.5V604.62H385.4V609.05H386.3V614.22H387.2V595.31H388.1V585.1H389V585.1H389.9V585.1H390.8V585.1H391.7V585.1H392.6V585.1H393.5V593.82H394.4V590.84H395.3V585.1H396.2V588.03H397.1V605.97H398V614.23H398.9V617.83H399.8V603.54H400.7V596.42H401.6V611.16H402.5V616.33H403.4V619.06H404.3V603.66H405.2V591.1H406.1V585.1H407V585.1H407.9V596.02H408.8V592H409.7V594.19H410.6V612.89H411.5V618.38H412.4V619.5H413.3V619.5H414.2V619.5H415.1V619.5H416V619.5H416.9V619.5H417.8V619.5H418.7V619.5H419.6V618.8H420.5V618.12H421.4V619.5H422.3V612.15H423.2V616.61H424.1V591.83H425V585.2H425.9V592.46H426.8V588.95H427.7V593.23H428.6V608.31H429.5V585.1H430.4V585.1H431.3V585.1H432.2V585.1H433.1V585.1H434V596.89H434.9V612.99H435.8V585.1H436.7V585.1H437.6V585.1H438.5V605.51H439.4V595.17H440.3V608.94H441.2V585.1H442.1V585.1H443V593.21H443.9V595.37H444.8V585.1H445.7V589.23H446.6V600.84H447.5V611.63H448.4V616.21H449.3V615.93H450.2V619.5H451.1V619.5H452V619.5H452.9V593.21H453.8V599.12H454.7V610.48H455.6V609.18H456.5V615.83H457.4V605.42H458.3V617.5H459.2V619.13H460.1V594.54H461V597.7H461.9V596.03H462.8V607.23H463.7V607.07H464.6V585.1H465.5V585.1H466.4V599.28H467.3V601.11H468.2V585.1H469.1V588.62H470V585.1H470.9V588.66H471.8V618.81H472.7V616.11H473.6V619.5H474.5V619.5H475.4V619.5H476.3V619.5H477.2V619.5H478.1V619.5H479V619.5H479.9V609.57H480.8V608.31H481.7V613.45H482.6V601.52H483.5V600.87H484.4V587.35H485.3V601.99H486.2V587.59H487.1V585.1H488V585.1H488.9V585.1H489.8V585.1H490.7V603.59H491.6V607.7H492.5V591.31H493.4V592.98H494.3V589.47H495.2V589.87H496.1V585.1H497V585.1H497.9V585.1H498.8V585.1H499.7V585.1H500.6V596.48H501.5V606.37H502.4V614.91H503.3V618.43H504.2V619.5H505.1V588.25H506V606.6H506.9V611.05H507.8V596.27H508.7V597.24H509.6V614.9H510.5V613.73H511.4V617.45H512.3V616.93H513.2V619.5H514.1V619.5H515V619.5H515.9V619.5H516.8V619.5H517.7V619.5H518.6V610.81H519.5V616.5H520.4V615.54H521.3V617.51H522.2V616.94H523.1V619.5H524V619.5H524.9V619.5H525.8V603.63H526.7V610.88H527.6V608.8H528.5V615.74H529.4V619.5H530.3V619.08H531.2V619.5H532.1V619.48H533V619.5H533.9V588.85H534.8V585.1H535.7V618.61H536.6V618.51H537.5V619.5H538.4V598.84H539.3V585.1H540.2V585.1H541.1V585.1H542V585.1H542.9V585.1H543.8V585.1H544.7V585.1H545.6V585.1H546.5V606.49H547.4V585.1H548.3V585.1H549.2V585.1H550.1V585.1H551V585.1H551.9V585.1H552.8V585.1H553.7V597.08H554.6V607.51H555.5V585.1H556.4V585.1H557.3V585.1H558.2V585.1H559.1V585.1H560V585.1H560.9V585.1H561.8V585.1H562.7V585.1H563.6V585.1H564.5V585.1H565.4V585.1H566.3V585.1H567.2V585.1H568.1V585.1H569V585.1H569.9V585.1H570.8V585.1H571.7V585.1H572.6V585.1H573.5V585.1H574.4V585.1H575.3V599.74H576.2V595.32H577.1V613.96H578V617.6H578.9V610.5H579.8V619.5H580.7V619.03H581.6V619.5H582.5V619.39H583.4V619.3H584.3V619.5H585.2V619.5H586.1V619.5H587V618.91H587.9V619H588.8V615.58H589.7V617.85H590.6V619.5H591.5V619.5H592.4V617.7H593.3V616.5H594.2V618.48H595.1V612.37H596V614.62H596.9V611.39H597.8V605.97H598.7V595.47H599.6V600.77H600.5V592.68H601.4V589.48H602.3V602.27H603.2V585.1H604.1V585.1H605V585.1H605.9V595.81H606.8V614.26H607.7V590.68H608.6V598.6H609.5V608.17H610.4V609.39H611.3V586.05H612.2V585.18H613.1V585.1H614V585.1H614.9V585.1H615.8V585.1H616.7V585.1H617.6V599.82H618.5V600.65H619.4V602.2H620.3V600.2H621.2V617.64H622.1V615.71H623V619.36H623.9V605.14H624.8V616.71H625.7V585.1H626.6V585.1H627.5V602.54H628.4V601.69H629.3V585.1H630.2V585.1H631.1V604.78H632V608.34H632.9V614.36H633.8V614.18H634.7V619.5H635.6V619.5H636.5V619.5H637.4V614.26H638.3V615.83H639.2V619.5H640.1V619.5H641V619.5H641.9V619.5H642.8V619.5H643.7V619.5H644.6V619.5H645.5V619.5H646.4V619.5H647.3V619.5H648.2V619.5H649.1V619.5H650V617.09H650.9V618.12H651.8V619.5H652.7V619.5H653.6V609.49H654.5V607.69H655.4V614.71H656.3V610.13H657.2V608.66H658.1V590H659V585.1H659.9V594.88H660.8V599.69H661.7V610.82H662.6V604.2H663.5V592.71H664.4V585.1H665.3V585.1H666.2V585.1H667.1V585.1H668V585.1H668.9V585.1H669.8V585.1H670.7V608.42H671.6V608.37H672.5V585.1H673.4V585.1H674.3V585.1H675.2V610.79H676.1V595.79H677V608H677.9V585.1H678.8V585.1H679.7V604.9H680.6V592.14H681.5V585.1H682.4V591.85H683.3V605.26H684.2V599.84H685.1V611.19H686V615.87H686.9V592.82H687.8V604.84H688.7V585.1H689.6V585.1H690.5V585.1H691.4V585.1H692.3V585.1H693.2V585.1H694.1V585.1H695V585.1H695.9V595.84H696.8V610.76H697.7V608.54H698.6V604.04H699.5V617.16H700.4V596.77H701.3V596.72H702.2V619.5H703.1V619.5H704V608.13H704.9V616.65H705.8V611.67H706.7V619.06H707.6V619.5H708.5V619.5H709.4V611.19H710.3V610.11H711.2V593.86H712.1V596.7H713V590.86H713.9V588.89H714.8V603.53H715.7V585.1H716.6V585.1H717.5V585.1H718.4V585.1H719.3V599.47H720.2V597.66H721.1V602.16H722V601.69H722.9V614.67H723.8V609.1H724.7V616.77H725.6V607.21H726.5V613.42H727.4V587.84H728.3V589.15H729.2V597.41H730.1V592.39H731V589.91H731.9V592.26H732.8V609.74H733.7V600.32H734.6V585.1H735.5V585.1H736.4V602.04H737.3V606.15H738.2V587.78H739.1V585.15H740V585.1H740.9V585.1H741.8V585.1H742.7V585.1H743.6V604.62H744.5V598.83H745.4V615.96H746.3V589.01H747.2V587.09H748.1V588.69H749V589.96H749.9V588.54H750.8V585.1H751.7V585.75H752.6V586.82H753.5V610.45H754.4V619.5H755.3V619.5H756.2V619.5H757.1V619.5H758V619.5H758.9V619.5H759.8V619.5H760.7V619.5H761.6V605.9H762.5V585.1H763.4V585.1H764.3V585.1H765.2V598.3H766.1V609.61H767V597.55H767.9V596.02H768.8V597.88H769.7V607.69H770.6V619.32H771.5V619.29H772.4V619.5H773.3V616.7H774.2V618.84H775.1V619.5H776V619.5H776.9V619.5H777.8V619.5H778.7V619.5H779.6V619.5H780.5V619.5H781.4V619.5H782.3V616.45H783.2V616.25H784.1V618.27H785V599.5H785.9V597.24H786.8V617.16H787.7V616.69H788.6V618.81H789.5V590.56H790.4V612.25H791.3V585.1H792.2V585.1H793.1V585.1H794V585.1H794.9V585.1H795.8V585.1H796.7V585.1H797.6V609.51H798.5V610.2H799.4V617.12H800.3V618.15H801.2V618.99H802.1V617.7H803V585.1H803.9V585.1H804.8V588.83H805.7V619.13H806.6V618.5H807.5V619.5H808.4V589.79H809.3V587.16H810.2V604.49H811.1V585.1H812V587.95H812.9V585.1H813.8V585.1H814.7V585.1H815.6V585.1H816.5V585.1H817.4V585.1H818.3V604.24H819.2V585.1H820.1V585.32H821V585.1H821.9V604.48H822.8V597.59H823.7V608.91H824.6V616.46H825.5V589.61H826.4V586.77H827.3V585.1H828.2V587.02H829.1V589.22H830V585.1H830.9V585.1H831.8V585.1H832.7V585.1H833.6V585.1H834.5V585.1H835.4V585.1H836.3V585.1H837.2V596.05H838.1V597.36H839V609.94H839.9V606.85H840.8V609.08H841.7V605.81H842.6V590.92H843.5V596.59H844.4V589.37H845.3V602.02H846.2V614.05H847.1V619.5H848V619.5H848.9V613.63H849.8V612.23H850.7V619.5H851.6V619.5H852.5V619.5H853.4V619.5H854.3V619.5H855.2V617.98H856.1V615.29H857V613.16H857.9V613.01H858.8V613.44H859.7V610.7H860.6V605.67H861.5V603.16H862.4V603.34H863.3V600.99H864.2V597.74H865.1V591.4H866V599.56H866.9V585.1H867.8V585.1H868.7V585.1H869.6V585.1H870.5V585.1H871.4V585.1H872.3V591.17H873.2V591.63H874.1V586.98H875V585.1H875.9V591.4H876.8V596.33H877.7V588.52H878.6V586.48H879.5V591.17H880.4V598.37H881.3V599.21H882.2V601.26H883.1V591.68H884V585.1H884.9V589.71H885.8V588.99H886.7V616.54H887.6V619.05H888.5V619.5H889.4V619.5H890.3V619.39H891.2V619.5H892.1V618.9H893V619.5H893.9V619.5H894.8V619.5H895.7V619.5H896.6V609.18H897.5V591.3H898.4V589.74H899.3V585.1H900.2V585.1H901.1V585.1H902V585.1H902.9V610.74H903.8V603.86H904.7V614.41H905.6V615.87H906.5V603.55H907.4V602.74H908.3V585.1H909.2V585.1H910.1V585.1H911V585.1H911.9V585.1H912.8V599.84H913.7V611H914.6V587.6H915.5V613.22H916.4V613.16H917.3V619.5H918.2V619.5H919.1V619.5H920V619.5H920.9V607.13H921.8V589.01H922.7V585.1H923.6V592.04H924.5V593.85H925.4V610.84H926.3V612.13H927.2V606.89H928.1V609.11H929V606.73H929.9V609.52H930.8V619.5H931.7V619.5H932.6V619.5H933.5V618.37H934.4V619.42H935.3V619.1H936.2V619.5H937.1V619.5H938V619.5H938.9V619.5H939.8V619.5H940.7V613.52H941.6V616.8H942.5V613.23H943.4V617.19H944.3V589H945.2V585.1H946.1V607.28H947V618.73H947.9V616.92H948.8V606.39H949.7V606.65H950.6V619.13H951.5V619.5H952.4V599.97H953.3V585.1H954.2V585.1H955.1V585.1H956V585.1H956.9V585.1H957.8V585.1H958.7V597.28H959.6V607.5H960.5V601.57H961.4V619.5H962.3V619.5H963.2V619.5H964.1V619.5H965V608.01H965.9V611.22H966.8V617.22H967.7V614.19H968.6V619.13H969.5V602.43H970.4V585.1H971.3V585.1H972.2V585.1H973.1V600.56H974V605.25H974.9V606.41H975.8V585.1H976.7V585.1H977.6V585.1H978.5V585.1H979.4V606.48H980.3V606.69H981.2V598.96H982.1V612.53H983V612.78H983.9V594.17H984.8V597.17H985.7V586.78H986.6V585.1H987.5V585.1H988.4V585.1H989.3V608.29H990.2V603.68H991.1V602.71H992V597.38H992.9V596.33H993.8V612.49H994.7V615.96H995.6V619.5H996.5V619.5H997.4V618.53H998.3V617.65H999.2V619.5H1000.1V619.5H1001V619.5H1001.9V619.5H1002.8V619.5H1003.7V619.5H1004.6V619.5H1005.5V619.5H1006.4V614.83H1007.3V613.74H1008.2V612.72H1009.1V606.22H1010V587.23H1010.9V586.29H1011.8V585.1H1012.7V609.08H1013.6V585.1H1014.5V585.1H1015.4V585.1H1016.3V585.1H1017.2V585.1H1018.1V585.1H1019V585.1H1019.9V585.1H1020.8V585.1H1021.7V611.65H1022.6V602.49H1023.5V611.72H1024.4V605.09H1025.3V607.08H1026.2V601.57H1027.1V604.33H1028V616.02H1028.9V618H1029.8V607.82H1030.7V585.1H1031.6V585.1H1032.5V585.1H1033.4V585.1H1034.3V585.1H1035.2V585.1H1036.1V585.1H1037V585.1H1037.9V585.1H1038.8V585.1H1039.7V585.1H1040.6V585.1H1041.5V598.18H1042.4V597.77H1043.3V595.49H1044.2V585.1H1045.1V587.09H1046V588.11H1046.9V585.1H1047.8V587.79H1048.7V605.04H1049.6V619.5H1050.5V619.5H1051.4V619.5H1052.3V619.5H1053.2V610.39H1054.1V616.12H1055V617.63H1055.9V618.12H1056.8V619.5H1057.7V619.26H1058.6V619.5H1059.5V619.5H1060.4V619.5H1061.3V619.5H1062.2V619.5H1063.1V615.37H1064V612.11H1064.9V612.89H1065.8V585.1H1066.7V589.49H1067.6V585.1H1068.5V589.18H1069.4V604.86H1070.3V602.83H1071.2V596.43H1072.1V592.26H1073V588.21H1073.9V598.58H1074.8V597.64H1075.7V585.1H1076.6V605.71H1076.9V620.6Z" fill="#468246"/>
<path d="M122.6 584.8V608.39H123.65V584.8ZM129.8 588.54V601.58H130.85V588.54ZM141.5 596.7V610.35H142.55V596.7ZM152.3 605.96V617.9H153.35V605.96ZM153.2 604.41V619.33H154.25V604.41ZM160.4 584.8V618.57H161.45V584.8ZM167.6 603.66V617.31H168.65V603.66ZM182.9 600.78V611.81H183.95V600.78ZM190.1 609.01V617.22H191.15V609.01ZM207.2 604.24V615.13H208.25V604.24ZM213.5 602.5V618.06H214.55V602.5ZM214.4 607.98V616.9H215.45V607.98ZM245 604.77V617.78H246.05V604.77ZM254 608.89V619H255.05V608.89ZM263 594.75V617.1H264.05V594.75ZM267.5 591.68V605.13H268.55V591.68ZM286.4 586.68V613.83H287.45V586.68ZM288.2 601.26V619.36H289.25V601.26ZM289.1 587.12V612.09H290.15V587.12ZM317 607.64V615.8H318.05V607.64ZM322.4 584.8V600.49H323.45V584.8ZM327.8 597.99V610.2H328.85V597.99ZM331.4 584.8V618.27H332.45V584.8ZM334.1 589.09V611.18H335.15V589.09ZM371.9 603.47V613.81H372.95V603.47ZM384.5 604.32V619.61H385.55V604.32ZM394.4 590.54V614.49H395.45V590.54ZM453.8 598.82V610.15H454.85V598.82ZM455.6 608.88V616.28H456.65V608.88ZM482.6 601.22V613.27H483.65V601.22ZM497.9 584.8V602.91H498.95V584.8ZM545.6 584.8V613.74H546.65V584.8ZM558.2 584.8V614.1H559.25V584.8ZM599.6 600.47V614.56H600.65V600.47ZM612.2 584.88V618.78H613.25V584.88ZM617.6 599.52V616.37H618.65V599.52ZM626.6 584.8V617.72H627.65V584.8ZM632 608.04V618.58H633.05V608.04ZM653.6 609.19V615.53H654.65V609.19ZM654.5 607.39V612.96H655.55V607.39ZM662.6 603.9V612.75H663.65V603.9ZM680.6 591.84V605.85H681.65V591.84ZM697.7 608.24V617.61H698.75V608.24ZM698.6 603.74V615.34H699.65V603.74ZM712.1 596.4V609.26H713.15V596.4ZM741.8 584.8V609.05H742.85V584.8ZM747.2 586.79V602.52H748.25V586.79ZM749.9 588.24V604.46H750.95V588.24ZM750.8 584.8V605.25H751.85V584.8ZM769.7 607.39V617.06H770.75V607.39ZM793.1 584.8V604.57H794.15V584.8ZM796.7 584.8V603.77H797.75V584.8ZM811.1 584.8V614.03H812.15V584.8ZM827.3 584.8V618.03H828.35V584.8ZM828.2 586.72V603.97H829.25V586.72ZM833.6 584.8V601.63H834.65V584.8ZM839 609.64V616.78H840.05V609.64ZM840.8 608.78V619.36H841.85V608.78ZM875 584.8V604.76H876.05V584.8ZM880.4 598.07V609.66H881.45V598.07ZM883.1 591.38V603.83H884.15V591.38ZM914.6 587.3V611.36H915.65V587.3ZM923.6 591.74V614.94H924.65V591.74ZM928.1 608.81V617.44H929.15V608.81ZM973.1 600.26V618.12H974.15V600.26ZM992 597.08V613.34H993.05V597.08ZM1015.4 584.8V600.72H1016.45V584.8ZM1047.8 587.49V603.49H1048.85V587.49Z" fill="#fff" fill-opacity="0.3"/>
<text x="599.4" y="635.8" fill="#000" text-anchor="middle" font-size="14.4" textLength="478.4">12 Flies, Mosquito, Honeybee, Beetle Multiz Alignments &amp; phastCons Scores</text>
<text x="118" y="652.6" fill="#6e0a28" text-anchor="end" font-size="14.4" textLength="72.4">15 Insect El</text>
<path d="M120.5 639.2H125.76V655.8H120.5ZM129.27 639.2H132.03V655.8H129.27ZM142.05 639.2H146.8V655.8H142.05ZM147.3 639.2H148.43V655.8H147.3ZM148.93 639.2H151.81V655.8H148.93ZM153.32 639.2H155.32V655.8H153.32ZM155.82 639.2H157.2V655.8H155.82ZM157.7 639.2H161.83V655.8H157.7ZM178.99 639.2H180.62V655.8H178.99ZM182.5 639.2H184.37V655.8H182.5ZM186.88 639.2H188.76V655.8H186.88ZM191.51 639.2H193.77V655.8H191.51ZM197.15 639.2H199.15V655.8H197.15ZM199.65 639.2H200.4V655.8H199.65ZM200.91 639.2H207.92V655.8H200.91ZM210.42 639.2H212.18V655.8H210.42ZM213.8 639.2H214.81V655.8H213.8ZM230.09 639.2H231.09V655.8H230.09ZM234.22 639.2H238.6V655.8H234.22ZM239.1 639.2H244.24V655.8H239.1ZM244.74 639.2H247.37V655.8H244.74ZM247.87 639.2H252V655.8H247.87ZM253 639.2H259.89V655.8H253ZM261.52 639.2H265.52V655.8H261.52ZM267.03 639.2H273.29V655.8H267.03ZM275.29 639.2H283.68V655.8H275.29ZM286.19 639.2H288.07V655.8H286.19ZM288.57 639.2H289.69V655.8H288.57ZM290.19 639.2H293.7V655.8H290.19ZM300.34 639.2H303.09V655.8H300.34ZM309.36 639.2H320V655.8H309.36ZM322.51 639.2H327.51V655.8H322.51ZM329.14 639.2H333.9V655.8H329.14ZM334.4 639.2H337.53V655.8H334.4ZM342.54 639.2H346.68V655.8H342.54ZM370.47 639.2H373.48V655.8H370.47ZM375.1 639.2H384.75V655.8H375.1ZM386 639.2H388V655.8H386ZM388 639.2H397.39V655.8H388ZM399.27 639.2H402.78V655.8H399.27ZM404.91 639.2H406.79V655.8H404.91ZM407.41 639.2H409.92V655.8H407.41ZM424.57 639.2H439.35V655.8H424.57ZM440.35 639.2H442.85V655.8H440.35ZM443.35 639.2H446.61V655.8H443.35ZM452.5 639.2H454.62V655.8H452.5ZM460.39 639.2H461.89V655.8H460.39ZM462.39 639.2H463.77V655.8H462.39ZM464.64 639.2H468.15V655.8H464.64ZM468.78 639.2H471.66V655.8H468.78ZM483.18 639.2H486.06V655.8H483.18ZM486.56 639.2H490.07V655.8H486.56ZM491.94 639.2H501.96V655.8H491.94ZM502.59 639.2H503.84V655.8H502.59ZM505.09 639.2H506.35V655.8H505.09ZM507.97 639.2H508.85V655.8H507.97ZM510.73 639.2H511.98V655.8H510.73ZM518.87 639.2H519.87V655.8H518.87ZM520.37 639.2H521.38V655.8H520.37ZM534.27 639.2H535.52V655.8H534.27ZM538.03 639.2H576.85V655.8H538.03ZM578.1 639.2H579.61V655.8H578.1ZM599.14 639.2H609.41V655.8H599.14ZM612.17 639.2H619.18V655.8H612.17ZM619.68 639.2H620.93V655.8H619.68ZM625.44 639.2H629.83V655.8H625.44ZM630.33 639.2H632.58V655.8H630.33ZM658 639.2H660.25V655.8H658ZM660.76 639.2H663.01V655.8H660.76ZM663.51 639.2H671.15V655.8H663.51ZM673.28 639.2H676.53V655.8H673.28ZM677.04 639.2H680.92V655.8H677.04ZM681.42 639.2H684.93V655.8H681.42ZM686.8 639.2H696.2V655.8H686.8ZM700.83 639.2H701.83V655.8H700.83ZM711.22 639.2H719.99V655.8H711.22ZM720.62 639.2H722.87V655.8H720.62ZM723.37 639.2H726.25V655.8H723.37ZM727.13 639.2H728.51V655.8H727.13ZM729.01 639.2H730.39V655.8H729.01ZM730.89 639.2H733.14V655.8H730.89ZM733.77 639.2H736.02V655.8H733.77ZM736.52 639.2H737.65V655.8H736.52ZM738.15 639.2H739.4V655.8H738.15ZM740.65 639.2H744.16V655.8H740.65ZM744.66 639.2H750.42V655.8H744.66ZM750.92 639.2H752.93V655.8H750.92ZM762.2 639.2H767.71V655.8H762.2ZM768.21 639.2H770.09V655.8H768.21ZM785.11 639.2H786.99V655.8H785.11ZM788.87 639.2H793V655.8H788.87ZM793 639.2H798.26V655.8H793ZM803.64 639.2H806.15V655.8H803.64ZM808.03 639.2H811.53V655.8H808.03ZM812.04 639.2H819.05V655.8H812.04ZM819.55 639.2H821.55V655.8H819.55ZM822.05 639.2H823.68V655.8H822.05ZM825.81 639.2H828.07V655.8H825.81ZM828.57 639.2H837.46V655.8H828.57ZM839.34 639.2H841.22V655.8H839.34ZM842.09 639.2H843.72V655.8H842.09ZM844.6 639.2H845.85V655.8H844.6ZM860 639.2H861.25V655.8H860ZM861.75 639.2H863.13V655.8H861.75ZM864.13 639.2H881.67V655.8H864.13ZM882.17 639.2H883.17V655.8H882.17ZM883.67 639.2H886.68V655.8H883.67ZM897.2 639.2H903.83V655.8H897.2ZM907.21 639.2H911.72V655.8H907.21ZM912.22 639.2H915.1V655.8H912.22ZM922.24 639.2H923.62V655.8H922.24ZM924.12 639.2H925.5V655.8H924.12ZM926 639.2H928V655.8H926ZM928 639.2H929.25V655.8H928ZM943.65 639.2H946.79V655.8H943.65ZM953.05 639.2H960.81V655.8H953.05ZM969.33 639.2H972.46V655.8H969.33ZM975.34 639.2H980.1V655.8H975.34ZM980.6 639.2H981.85V655.8H980.6ZM984.11 639.2H985.36V655.8H984.11ZM985.86 639.2H988.99V655.8H985.86ZM1010.03 639.2H1022.93V655.8H1010.03ZM1023.43 639.2H1024.68V655.8H1023.43ZM1026.31 639.2H1027.81V655.8H1026.31ZM1030.44 639.2H1049.23V655.8H1030.44ZM1066.02 639.2H1069.77V655.8H1066.02ZM1072.26 639.2H1076.88V655.8H1072.26Z" fill="#6e0a28"/>
</svg></body></html>
